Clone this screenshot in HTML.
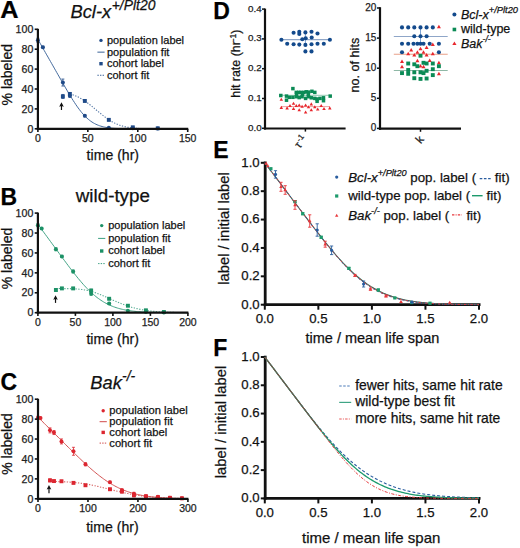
<!DOCTYPE html>
<html><head><meta charset="utf-8"><style>
html,body{margin:0;padding:0;background:#fff;}
body{width:520px;height:548px;overflow:hidden;}
svg{display:block;font-family:"Liberation Sans", sans-serif;}
text{stroke:#1a1a1a;stroke-width:0.25px;paint-order:stroke;}
</style></head><body>
<svg width="520" height="548" viewBox="0 0 520 548">
<rect width="520" height="548" fill="#fff"/>
<text x="0.00" y="0.00" font-size="23" text-anchor="start" font-weight="bold" font-style="normal" fill="#000" transform="translate(0.3,18.4) scale(1.1,1)">A</text>
<text x="70.5" y="18.3" font-size="18.3" font-style="italic" fill="#111">Bcl-x<tspan font-size="13.9" dy="-8" dx="0.6">+/Plt20</tspan></text>
<polyline points="37.90,39.37 39.16,41.58 40.42,43.79 41.68,46.00 42.94,48.21 44.19,50.43 45.45,52.64 46.71,54.85 47.97,57.06 49.23,59.27 50.49,61.48 51.75,63.69 53.01,65.90 54.27,68.11 55.52,70.33 56.78,72.54 58.04,74.75 59.30,76.95 60.56,79.16 61.82,81.36 63.08,83.55 64.34,85.74 65.60,87.92 66.85,90.07 68.11,92.21 69.37,94.33 70.63,96.41 71.89,98.46 73.15,100.47 74.41,102.42 75.67,104.33 76.92,106.16 78.18,107.94 79.44,109.64 80.70,111.26 81.96,112.80 83.22,114.26 84.48,115.63 85.74,116.91 87.00,118.11 88.25,119.22 89.51,120.25 90.77,121.19 92.03,122.05 93.29,122.84 94.55,123.55 95.81,124.19 97.07,124.77 98.33,125.28 99.58,125.74 100.84,126.15 102.10,126.51 103.36,126.83 104.62,127.11 105.88,127.35 107.14,127.56 108.40,127.75 109.66,127.91 110.91,128.04 112.17,128.16 113.43,128.26 114.69,128.35 115.95,128.42 117.21,128.48 118.47,128.54 119.73,128.58 120.99,128.62 122.24,128.65 123.50,128.68 124.76,128.70 126.02,128.72 127.28,128.73 128.54,128.74 129.80,128.75 131.06,128.76 132.31,128.77 133.57,128.77 134.83,128.78 136.09,128.78 137.35,128.79 138.61,128.79 139.87,128.79 141.13,128.79 142.39,128.79 143.64,128.80 144.90,128.80 146.16,128.80 147.42,128.80 148.68,128.80 149.94,128.80 151.20,128.80 152.46,128.80 153.72,128.80 154.97,128.80 156.23,128.80 157.49,128.80 158.75,128.80 160.01,128.80 161.27,128.80 162.53,128.80 163.79,128.80 165.05,128.80 166.30,128.80 167.56,128.80 168.82,128.80 170.08,128.80 171.34,128.80 172.60,128.80 173.86,128.80 175.12,128.80 176.38,128.80 177.63,128.80 178.89,128.80 180.15,128.80 181.41,128.80 182.67,128.80 183.93,128.80 185.19,128.80 186.45,128.80 187.71,128.80" fill="none" stroke="#3a6298" stroke-width="0.95" stroke-linejoin="round" />
<polyline points="69.86,93.96 70.85,94.22 71.84,94.50 72.83,94.82 73.82,95.17 74.81,95.54 75.80,95.95 76.79,96.39 77.78,96.85 78.77,97.35 79.76,97.87 80.75,98.43 81.74,99.01 82.73,99.62 83.72,100.26 84.71,100.92 85.70,101.60 86.69,102.31 87.68,103.04 88.67,103.78 89.66,104.55 90.65,105.33 91.65,106.12 92.64,106.93 93.63,107.74 94.62,108.57 95.61,109.39 96.60,110.22 97.59,111.06 98.58,111.88 99.57,112.71 100.56,113.52 101.55,114.33 102.54,115.12 103.53,115.90 104.52,116.66 105.51,117.40 106.50,118.12 107.49,118.81 108.48,119.49 109.47,120.13 110.46,120.76 111.45,121.35 112.44,121.91 113.43,122.45 114.42,122.96 115.41,123.44 116.40,123.89 117.39,124.31 118.38,124.71 119.37,125.08 120.36,125.42 121.35,125.74 122.34,126.03 123.34,126.30 124.33,126.55 125.32,126.78 126.31,126.99 127.30,127.18 128.29,127.35 129.28,127.51 130.27,127.65 131.26,127.78 132.25,127.90 133.24,128.00 134.23,128.09 135.22,128.18 136.21,128.25 137.20,128.32 138.19,128.38 139.18,128.43 140.17,128.48 141.16,128.52 142.15,128.55 143.14,128.59 144.13,128.61 145.12,128.64 146.11,128.66 147.10,128.68 148.09,128.70 149.08,128.71 150.07,128.72 151.06,128.73 152.05,128.74 153.04,128.75 154.03,128.76 155.02,128.76 156.02,128.77 157.01,128.77 158.00,128.78 158.99,128.78 159.98,128.78 160.97,128.79 161.96,128.79 162.95,128.79 163.94,128.79 164.93,128.79 165.92,128.79 166.91,128.79 167.90,128.80 168.89,128.80 169.88,128.80 170.87,128.80 171.86,128.80 172.85,128.80 173.84,128.80 174.83,128.80 175.82,128.80 176.81,128.80 177.80,128.80 178.79,128.80 179.78,128.80 180.77,128.80 181.76,128.80 182.75,128.80 183.74,128.80 184.73,128.80 185.72,128.80 186.71,128.80 187.71,128.80" fill="none" stroke="#3a6298" stroke-width="1.1" stroke-linejoin="round" stroke-dasharray="1.3,1.5" opacity="0.85"/>
<line x1="37.90" y1="38.26" x2="37.90" y2="42.24" stroke="#1f4a88" stroke-width="0.8" />
<line x1="36.40" y1="38.26" x2="39.40" y2="38.26" stroke="#1f4a88" stroke-width="0.8" />
<line x1="36.40" y1="42.24" x2="39.40" y2="42.24" stroke="#1f4a88" stroke-width="0.8" />
<circle cx="37.90" cy="40.25" r="2.0" fill="#1f4a88"/>
<line x1="42.89" y1="46.22" x2="42.89" y2="48.21" stroke="#1f4a88" stroke-width="0.8" />
<line x1="41.39" y1="46.22" x2="44.39" y2="46.22" stroke="#1f4a88" stroke-width="0.8" />
<line x1="41.39" y1="48.21" x2="44.39" y2="48.21" stroke="#1f4a88" stroke-width="0.8" />
<circle cx="42.89" cy="47.21" r="2.0" fill="#1f4a88"/>
<line x1="62.87" y1="79.05" x2="62.87" y2="86.02" stroke="#1f4a88" stroke-width="0.8" />
<line x1="61.37" y1="79.05" x2="64.37" y2="79.05" stroke="#1f4a88" stroke-width="0.8" />
<line x1="61.37" y1="86.02" x2="64.37" y2="86.02" stroke="#1f4a88" stroke-width="0.8" />
<circle cx="62.87" cy="82.53" r="2.0" fill="#1f4a88"/>
<line x1="69.86" y1="94.97" x2="69.86" y2="96.96" stroke="#1f4a88" stroke-width="0.8" />
<line x1="68.36" y1="94.97" x2="71.36" y2="94.97" stroke="#1f4a88" stroke-width="0.8" />
<line x1="68.36" y1="96.96" x2="71.36" y2="96.96" stroke="#1f4a88" stroke-width="0.8" />
<circle cx="69.86" cy="95.97" r="2.0" fill="#1f4a88"/>
<line x1="84.84" y1="114.87" x2="84.84" y2="116.86" stroke="#1f4a88" stroke-width="0.8" />
<line x1="83.34" y1="114.87" x2="86.34" y2="114.87" stroke="#1f4a88" stroke-width="0.8" />
<line x1="83.34" y1="116.86" x2="86.34" y2="116.86" stroke="#1f4a88" stroke-width="0.8" />
<circle cx="84.84" cy="115.87" r="2.0" fill="#1f4a88"/>
<circle cx="108.81" cy="127.81" r="2.0" fill="#1f4a88"/>
<circle cx="132.78" cy="128.30" r="2.0" fill="#1f4a88"/>
<circle cx="157.74" cy="128.50" r="2.0" fill="#1f4a88"/>
<line x1="62.87" y1="94.47" x2="62.87" y2="98.45" stroke="#1f4a88" stroke-width="0.8" />
<line x1="61.37" y1="94.47" x2="64.37" y2="94.47" stroke="#1f4a88" stroke-width="0.8" />
<line x1="61.37" y1="98.45" x2="64.37" y2="98.45" stroke="#1f4a88" stroke-width="0.8" />
<rect x="60.92" y="94.51" width="3.9" height="3.9" fill="#1f4a88"/>
<line x1="69.86" y1="92.48" x2="69.86" y2="95.47" stroke="#1f4a88" stroke-width="0.8" />
<line x1="68.36" y1="92.48" x2="71.36" y2="92.48" stroke="#1f4a88" stroke-width="0.8" />
<line x1="68.36" y1="95.47" x2="71.36" y2="95.47" stroke="#1f4a88" stroke-width="0.8" />
<rect x="67.91" y="92.03" width="3.9" height="3.9" fill="#1f4a88"/>
<line x1="84.84" y1="99.95" x2="84.84" y2="101.94" stroke="#1f4a88" stroke-width="0.8" />
<line x1="83.34" y1="99.95" x2="86.34" y2="99.95" stroke="#1f4a88" stroke-width="0.8" />
<line x1="83.34" y1="101.94" x2="86.34" y2="101.94" stroke="#1f4a88" stroke-width="0.8" />
<rect x="82.89" y="98.99" width="3.9" height="3.9" fill="#1f4a88"/>
<line x1="108.81" y1="118.85" x2="108.81" y2="120.84" stroke="#1f4a88" stroke-width="0.8" />
<line x1="107.31" y1="118.85" x2="110.31" y2="118.85" stroke="#1f4a88" stroke-width="0.8" />
<line x1="107.31" y1="120.84" x2="110.31" y2="120.84" stroke="#1f4a88" stroke-width="0.8" />
<rect x="106.86" y="117.90" width="3.9" height="3.9" fill="#1f4a88"/>
<line x1="132.78" y1="126.51" x2="132.78" y2="128.10" stroke="#1f4a88" stroke-width="0.8" />
<line x1="131.28" y1="126.51" x2="134.28" y2="126.51" stroke="#1f4a88" stroke-width="0.8" />
<line x1="131.28" y1="128.10" x2="134.28" y2="128.10" stroke="#1f4a88" stroke-width="0.8" />
<rect x="130.83" y="125.36" width="3.9" height="3.9" fill="#1f4a88"/>
<rect x="155.79" y="126.35" width="3.9" height="3.9" fill="#1f4a88"/>
<line x1="61.47" y1="104.20" x2="61.47" y2="110.00" stroke="#111" stroke-width="1.2" />
<polygon points="61.47,102.20 63.77,106.80 61.47,106.00 59.17,106.80" fill="#111"/>
<line x1="37.90" y1="28.80" x2="37.90" y2="129.90" stroke="#111" stroke-width="2.2" />
<line x1="36.80" y1="128.80" x2="188.21" y2="128.80" stroke="#111" stroke-width="2.2" />
<line x1="34.70" y1="128.80" x2="37.90" y2="128.80" stroke="#111" stroke-width="1.6" />
<text x="33.30" y="132.50" font-size="10.6" text-anchor="end" font-weight="normal" font-style="normal" fill="#222" >0</text>
<line x1="34.70" y1="108.90" x2="37.90" y2="108.90" stroke="#111" stroke-width="1.6" />
<text x="33.30" y="112.60" font-size="10.6" text-anchor="end" font-weight="normal" font-style="normal" fill="#222" >20</text>
<line x1="34.70" y1="89.00" x2="37.90" y2="89.00" stroke="#111" stroke-width="1.6" />
<text x="33.30" y="92.70" font-size="10.6" text-anchor="end" font-weight="normal" font-style="normal" fill="#222" >40</text>
<line x1="34.70" y1="69.10" x2="37.90" y2="69.10" stroke="#111" stroke-width="1.6" />
<text x="33.30" y="72.80" font-size="10.6" text-anchor="end" font-weight="normal" font-style="normal" fill="#222" >60</text>
<line x1="34.70" y1="49.20" x2="37.90" y2="49.20" stroke="#111" stroke-width="1.6" />
<text x="33.30" y="52.90" font-size="10.6" text-anchor="end" font-weight="normal" font-style="normal" fill="#222" >80</text>
<line x1="34.70" y1="29.30" x2="37.90" y2="29.30" stroke="#111" stroke-width="1.6" />
<text x="33.30" y="33.00" font-size="10.6" text-anchor="end" font-weight="normal" font-style="normal" fill="#222" >100</text>
<line x1="37.90" y1="128.80" x2="37.90" y2="132.00" stroke="#111" stroke-width="1.6" />
<text x="37.90" y="142.10" font-size="10.5" text-anchor="middle" font-weight="normal" font-style="normal" fill="#222" >0</text>
<line x1="87.84" y1="128.80" x2="87.84" y2="132.00" stroke="#111" stroke-width="1.6" />
<text x="87.84" y="142.10" font-size="10.5" text-anchor="middle" font-weight="normal" font-style="normal" fill="#222" >50</text>
<line x1="137.77" y1="128.80" x2="137.77" y2="132.00" stroke="#111" stroke-width="1.6" />
<text x="137.77" y="142.10" font-size="10.5" text-anchor="middle" font-weight="normal" font-style="normal" fill="#222" >100</text>
<line x1="187.71" y1="128.80" x2="187.71" y2="132.00" stroke="#111" stroke-width="1.6" />
<text x="187.71" y="142.10" font-size="10.5" text-anchor="middle" font-weight="normal" font-style="normal" fill="#222" >150</text>
<text x="86.60" y="160.10" font-size="14.1" text-anchor="start" font-weight="normal" font-style="normal" fill="#111" >time (hr)</text>
<text x="0.00" y="0.00" font-size="14" text-anchor="middle" font-weight="normal" font-style="normal" fill="#111" transform="translate(12.2,74.7) rotate(-90)">% labeled</text>
<text x="107.00" y="44.00" font-size="11.0" text-anchor="start" font-weight="normal" font-style="normal" fill="#111" >population label</text>
<circle cx="101.00" cy="40.40" r="1.7" fill="#1f4a88"/>
<text x="107.00" y="55.55" font-size="11.0" text-anchor="start" font-weight="normal" font-style="normal" fill="#111" >population fit</text>
<line x1="97.40" y1="52.15" x2="104.60" y2="52.15" stroke="#3a6298" stroke-width="1.0" />
<text x="107.00" y="67.10" font-size="11.0" text-anchor="start" font-weight="normal" font-style="normal" fill="#111" >cohort label</text>
<rect x="99.30" y="62.00" width="3.4" height="3.4" fill="#1f4a88"/>
<text x="107.00" y="78.65" font-size="11.0" text-anchor="start" font-weight="normal" font-style="normal" fill="#111" >cohort fit</text>
<line x1="97.40" y1="75.25" x2="104.60" y2="75.25" stroke="#3a6298" stroke-width="1.0" stroke-dasharray="1.4,1.2"/>
<text x="0.00" y="0.00" font-size="23" text-anchor="start" font-weight="bold" font-style="normal" fill="#000" transform="translate(0.5,205.2) scale(1,1)">B</text>
<text x="75.8" y="202.4" font-size="18.8" fill="#111">wild-type</text>
<polyline points="37.90,224.26 39.16,225.98 40.42,227.71 41.68,229.43 42.94,231.16 44.20,232.88 45.46,234.61 46.72,236.33 47.98,238.06 49.24,239.78 50.51,241.51 51.77,243.23 53.03,244.96 54.29,246.68 55.55,248.41 56.81,250.13 58.07,251.85 59.33,253.57 60.59,255.29 61.85,257.01 63.11,258.72 64.37,260.43 65.63,262.13 66.89,263.82 68.15,265.51 69.41,267.19 70.67,268.85 71.93,270.50 73.19,272.13 74.45,273.75 75.72,275.34 76.98,276.91 78.24,278.46 79.50,279.98 80.76,281.48 82.02,282.94 83.28,284.37 84.54,285.76 85.80,287.12 87.06,288.44 88.32,289.73 89.58,290.97 90.84,292.17 92.10,293.33 93.36,294.45 94.62,295.52 95.88,296.55 97.14,297.54 98.40,298.49 99.66,299.39 100.93,300.25 102.19,301.07 103.45,301.85 104.71,302.59 105.97,303.29 107.23,303.95 108.49,304.57 109.75,305.16 111.01,305.71 112.27,306.23 113.53,306.72 114.79,307.17 116.05,307.60 117.31,308.00 118.57,308.37 119.83,308.72 121.09,309.04 122.35,309.34 123.61,309.62 124.87,309.88 126.14,310.12 127.40,310.34 128.66,310.54 129.92,310.73 131.18,310.90 132.44,311.06 133.70,311.21 134.96,311.34 136.22,311.47 137.48,311.58 138.74,311.68 140.00,311.78 141.26,311.86 142.52,311.94 143.78,312.01 145.04,312.08 146.30,312.14 147.56,312.19 148.82,312.24 150.08,312.29 151.35,312.33 152.61,312.37 153.87,312.40 155.13,312.43 156.39,312.46 157.65,312.48 158.91,312.50 160.17,312.52 161.43,312.54 162.69,312.56 163.95,312.57 165.21,312.59 166.47,312.60 167.73,312.61 168.99,312.62 170.25,312.63 171.51,312.64 172.77,312.64 174.03,312.65 175.29,312.65 176.56,312.66 177.82,312.66 179.08,312.67 180.34,312.67 181.60,312.67 182.86,312.68 184.12,312.68 185.38,312.68 186.64,312.68 187.90,312.69" fill="none" stroke="#3a9f80" stroke-width="0.95" stroke-linejoin="round" />
<polyline points="55.90,288.55 57.01,288.55 58.12,288.55 59.23,288.55 60.34,288.56 61.45,288.56 62.56,288.56 63.66,288.57 64.77,288.58 65.88,288.59 66.99,288.60 68.10,288.62 69.21,288.64 70.32,288.67 71.43,288.70 72.54,288.74 73.65,288.79 74.76,288.85 75.87,288.92 76.98,289.00 78.08,289.09 79.19,289.19 80.30,289.31 81.41,289.44 82.52,289.60 83.63,289.76 84.74,289.95 85.85,290.15 86.96,290.38 88.07,290.62 89.18,290.88 90.29,291.16 91.40,291.46 92.51,291.79 93.61,292.13 94.72,292.49 95.83,292.86 96.94,293.26 98.05,293.67 99.16,294.09 100.27,294.53 101.38,294.98 102.49,295.44 103.60,295.92 104.71,296.40 105.82,296.89 106.93,297.38 108.03,297.88 109.14,298.38 110.25,298.88 111.36,299.38 112.47,299.88 113.58,300.38 114.69,300.88 115.80,301.36 116.91,301.84 118.02,302.32 119.13,302.78 120.24,303.24 121.35,303.68 122.45,304.12 123.56,304.54 124.67,304.96 125.78,305.35 126.89,305.74 128.00,306.11 129.11,306.47 130.22,306.82 131.33,307.16 132.44,307.48 133.55,307.78 134.66,308.08 135.77,308.36 136.87,308.62 137.98,308.88 139.09,309.12 140.20,309.35 141.31,309.57 142.42,309.77 143.53,309.97 144.64,310.15 145.75,310.33 146.86,310.49 147.97,310.65 149.08,310.79 150.19,310.93 151.29,311.06 152.40,311.18 153.51,311.29 154.62,311.39 155.73,311.49 156.84,311.58 157.95,311.67 159.06,311.75 160.17,311.82 161.28,311.89 162.39,311.96 163.50,312.02 164.61,312.07 165.72,312.12 166.82,312.17 167.93,312.21 169.04,312.25 170.15,312.29 171.26,312.32 172.37,312.36 173.48,312.38 174.59,312.41 175.70,312.44 176.81,312.46 177.92,312.48 179.03,312.50 180.14,312.52 181.24,312.53 182.35,312.55 183.46,312.56 184.57,312.57 185.68,312.59 186.79,312.60 187.90,312.61" fill="none" stroke="#3a9f80" stroke-width="1.1" stroke-linejoin="round" stroke-dasharray="1.3,1.5" opacity="0.85"/>
<line x1="37.90" y1="223.76" x2="37.90" y2="226.75" stroke="#1c9166" stroke-width="0.8" />
<line x1="36.40" y1="223.76" x2="39.40" y2="223.76" stroke="#1c9166" stroke-width="0.8" />
<line x1="36.40" y1="226.75" x2="39.40" y2="226.75" stroke="#1c9166" stroke-width="0.8" />
<circle cx="37.90" cy="225.25" r="2.0" fill="#1c9166"/>
<line x1="41.65" y1="227.44" x2="41.65" y2="229.43" stroke="#1c9166" stroke-width="0.8" />
<line x1="40.15" y1="227.44" x2="43.15" y2="227.44" stroke="#1c9166" stroke-width="0.8" />
<line x1="40.15" y1="229.43" x2="43.15" y2="229.43" stroke="#1c9166" stroke-width="0.8" />
<circle cx="41.65" cy="228.44" r="2.0" fill="#1c9166"/>
<line x1="55.90" y1="247.76" x2="55.90" y2="250.75" stroke="#1c9166" stroke-width="0.8" />
<line x1="54.40" y1="247.76" x2="57.40" y2="247.76" stroke="#1c9166" stroke-width="0.8" />
<line x1="54.40" y1="250.75" x2="57.40" y2="250.75" stroke="#1c9166" stroke-width="0.8" />
<circle cx="55.90" cy="249.25" r="2.0" fill="#1c9166"/>
<line x1="61.90" y1="255.53" x2="61.90" y2="257.52" stroke="#1c9166" stroke-width="0.8" />
<line x1="60.40" y1="255.53" x2="63.40" y2="255.53" stroke="#1c9166" stroke-width="0.8" />
<line x1="60.40" y1="257.52" x2="63.40" y2="257.52" stroke="#1c9166" stroke-width="0.8" />
<circle cx="61.90" cy="256.53" r="2.0" fill="#1c9166"/>
<line x1="73.15" y1="269.97" x2="73.15" y2="272.96" stroke="#1c9166" stroke-width="0.8" />
<line x1="71.65" y1="269.97" x2="74.65" y2="269.97" stroke="#1c9166" stroke-width="0.8" />
<line x1="71.65" y1="272.96" x2="74.65" y2="272.96" stroke="#1c9166" stroke-width="0.8" />
<circle cx="73.15" cy="271.47" r="2.0" fill="#1c9166"/>
<line x1="91.15" y1="292.28" x2="91.15" y2="295.27" stroke="#1c9166" stroke-width="0.8" />
<line x1="89.65" y1="292.28" x2="92.65" y2="292.28" stroke="#1c9166" stroke-width="0.8" />
<line x1="89.65" y1="295.27" x2="92.65" y2="295.27" stroke="#1c9166" stroke-width="0.8" />
<circle cx="91.15" cy="293.78" r="2.0" fill="#1c9166"/>
<line x1="109.15" y1="302.44" x2="109.15" y2="304.43" stroke="#1c9166" stroke-width="0.8" />
<line x1="107.65" y1="302.44" x2="110.65" y2="302.44" stroke="#1c9166" stroke-width="0.8" />
<line x1="107.65" y1="304.43" x2="110.65" y2="304.43" stroke="#1c9166" stroke-width="0.8" />
<circle cx="109.15" cy="303.44" r="2.0" fill="#1c9166"/>
<line x1="127.90" y1="310.31" x2="127.90" y2="311.31" stroke="#1c9166" stroke-width="0.8" />
<line x1="126.40" y1="310.31" x2="129.40" y2="310.31" stroke="#1c9166" stroke-width="0.8" />
<line x1="126.40" y1="311.31" x2="129.40" y2="311.31" stroke="#1c9166" stroke-width="0.8" />
<circle cx="127.90" cy="310.81" r="2.0" fill="#1c9166"/>
<circle cx="145.90" cy="312.00" r="2.0" fill="#1c9166"/>
<circle cx="163.90" cy="312.40" r="2.0" fill="#1c9166"/>
<line x1="55.90" y1="288.50" x2="55.90" y2="291.49" stroke="#1c9166" stroke-width="0.8" />
<line x1="54.40" y1="288.50" x2="57.40" y2="288.50" stroke="#1c9166" stroke-width="0.8" />
<line x1="54.40" y1="291.49" x2="57.40" y2="291.49" stroke="#1c9166" stroke-width="0.8" />
<rect x="53.95" y="288.04" width="3.9" height="3.9" fill="#1c9166"/>
<line x1="61.90" y1="287.40" x2="61.90" y2="289.39" stroke="#1c9166" stroke-width="0.8" />
<line x1="60.40" y1="287.40" x2="63.40" y2="287.40" stroke="#1c9166" stroke-width="0.8" />
<line x1="60.40" y1="289.39" x2="63.40" y2="289.39" stroke="#1c9166" stroke-width="0.8" />
<rect x="59.95" y="286.45" width="3.9" height="3.9" fill="#1c9166"/>
<line x1="73.15" y1="287.40" x2="73.15" y2="289.39" stroke="#1c9166" stroke-width="0.8" />
<line x1="71.65" y1="287.40" x2="74.65" y2="287.40" stroke="#1c9166" stroke-width="0.8" />
<line x1="71.65" y1="289.39" x2="74.65" y2="289.39" stroke="#1c9166" stroke-width="0.8" />
<rect x="71.20" y="286.45" width="3.9" height="3.9" fill="#1c9166"/>
<line x1="91.15" y1="289.09" x2="91.15" y2="292.08" stroke="#1c9166" stroke-width="0.8" />
<line x1="89.65" y1="289.09" x2="92.65" y2="289.09" stroke="#1c9166" stroke-width="0.8" />
<line x1="89.65" y1="292.08" x2="92.65" y2="292.08" stroke="#1c9166" stroke-width="0.8" />
<rect x="89.20" y="288.64" width="3.9" height="3.9" fill="#1c9166"/>
<line x1="109.15" y1="297.76" x2="109.15" y2="299.75" stroke="#1c9166" stroke-width="0.8" />
<line x1="107.65" y1="297.76" x2="110.65" y2="297.76" stroke="#1c9166" stroke-width="0.8" />
<line x1="107.65" y1="299.75" x2="110.65" y2="299.75" stroke="#1c9166" stroke-width="0.8" />
<rect x="107.20" y="296.81" width="3.9" height="3.9" fill="#1c9166"/>
<line x1="127.90" y1="304.93" x2="127.90" y2="306.52" stroke="#1c9166" stroke-width="0.8" />
<line x1="126.40" y1="304.93" x2="129.40" y2="304.93" stroke="#1c9166" stroke-width="0.8" />
<line x1="126.40" y1="306.52" x2="129.40" y2="306.52" stroke="#1c9166" stroke-width="0.8" />
<rect x="125.95" y="303.78" width="3.9" height="3.9" fill="#1c9166"/>
<line x1="145.90" y1="309.51" x2="145.90" y2="311.11" stroke="#1c9166" stroke-width="0.8" />
<line x1="144.40" y1="309.51" x2="147.40" y2="309.51" stroke="#1c9166" stroke-width="0.8" />
<line x1="144.40" y1="311.11" x2="147.40" y2="311.11" stroke="#1c9166" stroke-width="0.8" />
<rect x="143.95" y="308.36" width="3.9" height="3.9" fill="#1c9166"/>
<rect x="161.95" y="310.05" width="3.9" height="3.9" fill="#1c9166"/>
<line x1="55.52" y1="297.20" x2="55.52" y2="302.90" stroke="#111" stroke-width="1.2" />
<polygon points="55.52,295.20 57.82,299.80 55.52,299.00 53.23,299.80" fill="#111"/>
<line x1="37.90" y1="212.60" x2="37.90" y2="313.80" stroke="#111" stroke-width="2.2" />
<line x1="36.80" y1="312.70" x2="188.40" y2="312.70" stroke="#111" stroke-width="2.2" />
<line x1="34.70" y1="312.70" x2="37.90" y2="312.70" stroke="#111" stroke-width="1.6" />
<text x="33.30" y="316.40" font-size="10.6" text-anchor="end" font-weight="normal" font-style="normal" fill="#222" >0</text>
<line x1="34.70" y1="292.78" x2="37.90" y2="292.78" stroke="#111" stroke-width="1.6" />
<text x="33.30" y="296.48" font-size="10.6" text-anchor="end" font-weight="normal" font-style="normal" fill="#222" >20</text>
<line x1="34.70" y1="272.86" x2="37.90" y2="272.86" stroke="#111" stroke-width="1.6" />
<text x="33.30" y="276.56" font-size="10.6" text-anchor="end" font-weight="normal" font-style="normal" fill="#222" >40</text>
<line x1="34.70" y1="252.94" x2="37.90" y2="252.94" stroke="#111" stroke-width="1.6" />
<text x="33.30" y="256.64" font-size="10.6" text-anchor="end" font-weight="normal" font-style="normal" fill="#222" >60</text>
<line x1="34.70" y1="233.02" x2="37.90" y2="233.02" stroke="#111" stroke-width="1.6" />
<text x="33.30" y="236.72" font-size="10.6" text-anchor="end" font-weight="normal" font-style="normal" fill="#222" >80</text>
<line x1="34.70" y1="213.10" x2="37.90" y2="213.10" stroke="#111" stroke-width="1.6" />
<text x="33.30" y="216.80" font-size="10.6" text-anchor="end" font-weight="normal" font-style="normal" fill="#222" >100</text>
<line x1="37.90" y1="312.70" x2="37.90" y2="315.90" stroke="#111" stroke-width="1.6" />
<text x="37.90" y="326.00" font-size="10.5" text-anchor="middle" font-weight="normal" font-style="normal" fill="#222" >0</text>
<line x1="75.40" y1="312.70" x2="75.40" y2="315.90" stroke="#111" stroke-width="1.6" />
<text x="75.40" y="326.00" font-size="10.5" text-anchor="middle" font-weight="normal" font-style="normal" fill="#222" >50</text>
<line x1="112.90" y1="312.70" x2="112.90" y2="315.90" stroke="#111" stroke-width="1.6" />
<text x="112.90" y="326.00" font-size="10.5" text-anchor="middle" font-weight="normal" font-style="normal" fill="#222" >100</text>
<line x1="150.40" y1="312.70" x2="150.40" y2="315.90" stroke="#111" stroke-width="1.6" />
<text x="150.40" y="326.00" font-size="10.5" text-anchor="middle" font-weight="normal" font-style="normal" fill="#222" >150</text>
<line x1="187.90" y1="312.70" x2="187.90" y2="315.90" stroke="#111" stroke-width="1.6" />
<text x="187.90" y="326.00" font-size="10.5" text-anchor="middle" font-weight="normal" font-style="normal" fill="#222" >200</text>
<text x="86.40" y="344.30" font-size="14.1" text-anchor="start" font-weight="normal" font-style="normal" fill="#111" >time (hr)</text>
<text x="0.00" y="0.00" font-size="14" text-anchor="middle" font-weight="normal" font-style="normal" fill="#111" transform="translate(12.2,258.5) rotate(-90)">% labeled</text>
<text x="108.20" y="229.20" font-size="11.0" text-anchor="start" font-weight="normal" font-style="normal" fill="#111" >population label</text>
<circle cx="101.70" cy="225.60" r="1.7" fill="#1c9166"/>
<text x="108.20" y="241.80" font-size="11.0" text-anchor="start" font-weight="normal" font-style="normal" fill="#111" >population fit</text>
<line x1="98.10" y1="238.40" x2="105.30" y2="238.40" stroke="#3a9f80" stroke-width="1.0" />
<text x="108.20" y="254.40" font-size="11.0" text-anchor="start" font-weight="normal" font-style="normal" fill="#111" >cohort label</text>
<rect x="100.00" y="249.30" width="3.4" height="3.4" fill="#1c9166"/>
<text x="108.20" y="267.00" font-size="11.0" text-anchor="start" font-weight="normal" font-style="normal" fill="#111" >cohort fit</text>
<line x1="98.10" y1="263.60" x2="105.30" y2="263.60" stroke="#3a9f80" stroke-width="1.0" stroke-dasharray="1.4,1.2"/>
<text x="0.00" y="0.00" font-size="23" text-anchor="start" font-weight="bold" font-style="normal" fill="#000" transform="translate(0.5,389.5) scale(1,1)">C</text>
<text x="90.3" y="388.7" font-size="18.3" font-style="italic" fill="#111">Bak<tspan font-size="13.9" dy="-8" dx="0.3">-/-</tspan></text>
<polyline points="38.00,417.17 39.26,418.42 40.52,419.67 41.78,420.92 43.04,422.17 44.30,423.42 45.56,424.68 46.82,425.93 48.08,427.18 49.34,428.43 50.60,429.68 51.86,430.93 53.12,432.18 54.38,433.44 55.64,434.69 56.90,435.94 58.16,437.19 59.42,438.44 60.68,439.69 61.94,440.94 63.19,442.19 64.45,443.44 65.71,444.69 66.97,445.94 68.23,447.18 69.49,448.43 70.75,449.67 72.01,450.91 73.27,452.15 74.53,453.38 75.79,454.61 77.05,455.84 78.31,457.06 79.57,458.27 80.83,459.48 82.09,460.67 83.35,461.86 84.61,463.04 85.87,464.21 87.13,465.37 88.39,466.51 89.65,467.64 90.91,468.75 92.17,469.85 93.43,470.93 94.69,471.99 95.95,473.04 97.21,474.06 98.47,475.06 99.73,476.05 100.99,477.01 102.25,477.95 103.51,478.86 104.77,479.75 106.03,480.62 107.29,481.46 108.55,482.28 109.81,483.07 111.07,483.84 112.33,484.58 113.58,485.29 114.84,485.98 116.10,486.65 117.36,487.29 118.62,487.90 119.88,488.50 121.14,489.06 122.40,489.61 123.66,490.13 124.92,490.62 126.18,491.10 127.44,491.55 128.70,491.98 129.96,492.39 131.22,492.78 132.48,493.15 133.74,493.50 135.00,493.84 136.26,494.15 137.52,494.45 138.78,494.73 140.04,495.00 141.30,495.25 142.56,495.49 143.82,495.71 145.08,495.92 146.34,496.12 147.60,496.31 148.86,496.48 150.12,496.65 151.38,496.80 152.64,496.94 153.90,497.08 155.16,497.20 156.42,497.32 157.68,497.43 158.94,497.53 160.20,497.63 161.46,497.72 162.72,497.80 163.97,497.87 165.23,497.95 166.49,498.01 167.75,498.07 169.01,498.13 170.27,498.18 171.53,498.23 172.79,498.28 174.05,498.32 175.31,498.36 176.57,498.40 177.83,498.43 179.09,498.46 180.35,498.49 181.61,498.51 182.87,498.54 184.13,498.56 185.39,498.58 186.65,498.60 187.91,498.62" fill="none" stroke="#d04a4a" stroke-width="0.95" stroke-linejoin="round" />
<polyline points="49.99,481.48 51.15,481.49 52.31,481.50 53.47,481.51 54.63,481.53 55.79,481.55 56.95,481.57 58.11,481.59 59.26,481.62 60.42,481.65 61.58,481.69 62.74,481.73 63.90,481.78 65.06,481.83 66.22,481.89 67.38,481.95 68.54,482.02 69.70,482.10 70.85,482.18 72.01,482.27 73.17,482.37 74.33,482.48 75.49,482.59 76.65,482.72 77.81,482.85 78.97,482.99 80.13,483.14 81.28,483.29 82.44,483.46 83.60,483.63 84.76,483.82 85.92,484.01 87.08,484.21 88.24,484.42 89.40,484.64 90.56,484.86 91.72,485.09 92.87,485.33 94.03,485.58 95.19,485.83 96.35,486.09 97.51,486.36 98.67,486.63 99.83,486.90 100.99,487.18 102.15,487.46 103.31,487.75 104.46,488.03 105.62,488.32 106.78,488.61 107.94,488.91 109.10,489.20 110.26,489.49 111.42,489.78 112.58,490.07 113.74,490.36 114.90,490.64 116.05,490.93 117.21,491.21 118.37,491.48 119.53,491.76 120.69,492.02 121.85,492.29 123.01,492.55 124.17,492.80 125.33,493.05 126.48,493.29 127.64,493.53 128.80,493.76 129.96,493.98 131.12,494.20 132.28,494.41 133.44,494.62 134.60,494.82 135.76,495.01 136.92,495.19 138.07,495.37 139.23,495.55 140.39,495.71 141.55,495.87 142.71,496.03 143.87,496.17 145.03,496.31 146.19,496.45 147.35,496.58 148.51,496.70 149.66,496.82 150.82,496.93 151.98,497.04 153.14,497.14 154.30,497.24 155.46,497.34 156.62,497.42 157.78,497.51 158.94,497.59 160.09,497.66 161.25,497.73 162.41,497.80 163.57,497.86 164.73,497.92 165.89,497.98 167.05,498.03 168.21,498.08 169.37,498.13 170.53,498.17 171.68,498.22 172.84,498.26 174.00,498.29 175.16,498.33 176.32,498.36 177.48,498.39 178.64,498.42 179.80,498.45 180.96,498.47 182.12,498.49 183.27,498.52 184.43,498.54 185.59,498.56 186.75,498.57 187.91,498.59" fill="none" stroke="#d04a4a" stroke-width="1.1" stroke-linejoin="round" stroke-dasharray="1.3,1.5" opacity="0.85"/>
<line x1="38.00" y1="416.23" x2="38.00" y2="419.22" stroke="#dc2630" stroke-width="0.8" />
<line x1="36.50" y1="416.23" x2="39.50" y2="416.23" stroke="#dc2630" stroke-width="0.8" />
<line x1="36.50" y1="419.22" x2="39.50" y2="419.22" stroke="#dc2630" stroke-width="0.8" />
<circle cx="38.00" cy="417.73" r="2.0" fill="#dc2630"/>
<line x1="40.50" y1="417.13" x2="40.50" y2="419.12" stroke="#dc2630" stroke-width="0.8" />
<line x1="39.00" y1="417.13" x2="42.00" y2="417.13" stroke="#dc2630" stroke-width="0.8" />
<line x1="39.00" y1="419.12" x2="42.00" y2="419.12" stroke="#dc2630" stroke-width="0.8" />
<circle cx="40.50" cy="418.12" r="2.0" fill="#dc2630"/>
<line x1="49.99" y1="427.88" x2="49.99" y2="432.86" stroke="#dc2630" stroke-width="0.8" />
<line x1="48.49" y1="427.88" x2="51.49" y2="427.88" stroke="#dc2630" stroke-width="0.8" />
<line x1="48.49" y1="432.86" x2="51.49" y2="432.86" stroke="#dc2630" stroke-width="0.8" />
<circle cx="49.99" cy="430.37" r="2.0" fill="#dc2630"/>
<line x1="53.99" y1="430.57" x2="53.99" y2="434.56" stroke="#dc2630" stroke-width="0.8" />
<line x1="52.49" y1="430.57" x2="55.49" y2="430.57" stroke="#dc2630" stroke-width="0.8" />
<line x1="52.49" y1="434.56" x2="55.49" y2="434.56" stroke="#dc2630" stroke-width="0.8" />
<circle cx="53.99" cy="432.57" r="2.0" fill="#dc2630"/>
<line x1="61.49" y1="438.94" x2="61.49" y2="443.92" stroke="#dc2630" stroke-width="0.8" />
<line x1="59.99" y1="438.94" x2="62.99" y2="438.94" stroke="#dc2630" stroke-width="0.8" />
<line x1="59.99" y1="443.92" x2="62.99" y2="443.92" stroke="#dc2630" stroke-width="0.8" />
<circle cx="61.49" cy="441.43" r="2.0" fill="#dc2630"/>
<line x1="73.48" y1="447.31" x2="73.48" y2="455.27" stroke="#dc2630" stroke-width="0.8" />
<line x1="71.98" y1="447.31" x2="74.98" y2="447.31" stroke="#dc2630" stroke-width="0.8" />
<line x1="71.98" y1="455.27" x2="74.98" y2="455.27" stroke="#dc2630" stroke-width="0.8" />
<circle cx="73.48" cy="451.29" r="2.0" fill="#dc2630"/>
<line x1="85.47" y1="462.84" x2="85.47" y2="465.83" stroke="#dc2630" stroke-width="0.8" />
<line x1="83.97" y1="462.84" x2="86.97" y2="462.84" stroke="#dc2630" stroke-width="0.8" />
<line x1="83.97" y1="465.83" x2="86.97" y2="465.83" stroke="#dc2630" stroke-width="0.8" />
<circle cx="85.47" cy="464.34" r="2.0" fill="#dc2630"/>
<line x1="109.96" y1="481.17" x2="109.96" y2="483.16" stroke="#dc2630" stroke-width="0.8" />
<line x1="108.46" y1="481.17" x2="111.46" y2="481.17" stroke="#dc2630" stroke-width="0.8" />
<line x1="108.46" y1="483.16" x2="111.46" y2="483.16" stroke="#dc2630" stroke-width="0.8" />
<circle cx="109.96" cy="482.17" r="2.0" fill="#dc2630"/>
<line x1="121.95" y1="488.84" x2="121.95" y2="491.83" stroke="#dc2630" stroke-width="0.8" />
<line x1="120.45" y1="488.84" x2="123.45" y2="488.84" stroke="#dc2630" stroke-width="0.8" />
<line x1="120.45" y1="491.83" x2="123.45" y2="491.83" stroke="#dc2630" stroke-width="0.8" />
<circle cx="121.95" cy="490.33" r="2.0" fill="#dc2630"/>
<line x1="133.94" y1="492.33" x2="133.94" y2="495.31" stroke="#dc2630" stroke-width="0.8" />
<line x1="132.44" y1="492.33" x2="135.44" y2="492.33" stroke="#dc2630" stroke-width="0.8" />
<line x1="132.44" y1="495.31" x2="135.44" y2="495.31" stroke="#dc2630" stroke-width="0.8" />
<circle cx="133.94" cy="493.82" r="2.0" fill="#dc2630"/>
<line x1="145.94" y1="495.21" x2="145.94" y2="497.21" stroke="#dc2630" stroke-width="0.8" />
<line x1="144.44" y1="495.21" x2="147.44" y2="495.21" stroke="#dc2630" stroke-width="0.8" />
<line x1="144.44" y1="497.21" x2="147.44" y2="497.21" stroke="#dc2630" stroke-width="0.8" />
<circle cx="145.94" cy="496.21" r="2.0" fill="#dc2630"/>
<line x1="157.93" y1="495.81" x2="157.93" y2="497.80" stroke="#dc2630" stroke-width="0.8" />
<line x1="156.43" y1="495.81" x2="159.43" y2="495.81" stroke="#dc2630" stroke-width="0.8" />
<line x1="156.43" y1="497.80" x2="159.43" y2="497.80" stroke="#dc2630" stroke-width="0.8" />
<circle cx="157.93" cy="496.81" r="2.0" fill="#dc2630"/>
<line x1="169.92" y1="497.31" x2="169.92" y2="498.30" stroke="#dc2630" stroke-width="0.8" />
<line x1="168.42" y1="497.31" x2="171.42" y2="497.31" stroke="#dc2630" stroke-width="0.8" />
<line x1="168.42" y1="498.30" x2="171.42" y2="498.30" stroke="#dc2630" stroke-width="0.8" />
<circle cx="169.92" cy="497.80" r="2.0" fill="#dc2630"/>
<circle cx="181.91" cy="498.30" r="2.0" fill="#dc2630"/>
<line x1="49.99" y1="478.88" x2="49.99" y2="481.87" stroke="#dc2630" stroke-width="0.8" />
<line x1="48.49" y1="478.88" x2="51.49" y2="478.88" stroke="#dc2630" stroke-width="0.8" />
<line x1="48.49" y1="481.87" x2="51.49" y2="481.87" stroke="#dc2630" stroke-width="0.8" />
<rect x="48.04" y="478.42" width="3.9" height="3.9" fill="#dc2630"/>
<line x1="53.99" y1="480.08" x2="53.99" y2="482.07" stroke="#dc2630" stroke-width="0.8" />
<line x1="52.49" y1="480.08" x2="55.49" y2="480.08" stroke="#dc2630" stroke-width="0.8" />
<line x1="52.49" y1="482.07" x2="55.49" y2="482.07" stroke="#dc2630" stroke-width="0.8" />
<rect x="52.04" y="479.12" width="3.9" height="3.9" fill="#dc2630"/>
<line x1="61.49" y1="480.27" x2="61.49" y2="482.27" stroke="#dc2630" stroke-width="0.8" />
<line x1="59.99" y1="480.27" x2="62.99" y2="480.27" stroke="#dc2630" stroke-width="0.8" />
<line x1="59.99" y1="482.27" x2="62.99" y2="482.27" stroke="#dc2630" stroke-width="0.8" />
<rect x="59.54" y="479.32" width="3.9" height="3.9" fill="#dc2630"/>
<line x1="73.48" y1="481.87" x2="73.48" y2="483.86" stroke="#dc2630" stroke-width="0.8" />
<line x1="71.98" y1="481.87" x2="74.98" y2="481.87" stroke="#dc2630" stroke-width="0.8" />
<line x1="71.98" y1="483.86" x2="74.98" y2="483.86" stroke="#dc2630" stroke-width="0.8" />
<rect x="71.53" y="480.91" width="3.9" height="3.9" fill="#dc2630"/>
<line x1="85.47" y1="484.26" x2="85.47" y2="486.25" stroke="#dc2630" stroke-width="0.8" />
<line x1="83.97" y1="484.26" x2="86.97" y2="484.26" stroke="#dc2630" stroke-width="0.8" />
<line x1="83.97" y1="486.25" x2="86.97" y2="486.25" stroke="#dc2630" stroke-width="0.8" />
<rect x="83.52" y="483.30" width="3.9" height="3.9" fill="#dc2630"/>
<line x1="109.96" y1="488.24" x2="109.96" y2="490.23" stroke="#dc2630" stroke-width="0.8" />
<line x1="108.46" y1="488.24" x2="111.46" y2="488.24" stroke="#dc2630" stroke-width="0.8" />
<line x1="108.46" y1="490.23" x2="111.46" y2="490.23" stroke="#dc2630" stroke-width="0.8" />
<rect x="108.01" y="487.29" width="3.9" height="3.9" fill="#dc2630"/>
<line x1="121.95" y1="490.04" x2="121.95" y2="493.02" stroke="#dc2630" stroke-width="0.8" />
<line x1="120.45" y1="490.04" x2="123.45" y2="490.04" stroke="#dc2630" stroke-width="0.8" />
<line x1="120.45" y1="493.02" x2="123.45" y2="493.02" stroke="#dc2630" stroke-width="0.8" />
<rect x="120.00" y="489.58" width="3.9" height="3.9" fill="#dc2630"/>
<line x1="133.94" y1="493.82" x2="133.94" y2="496.81" stroke="#dc2630" stroke-width="0.8" />
<line x1="132.44" y1="493.82" x2="135.44" y2="493.82" stroke="#dc2630" stroke-width="0.8" />
<line x1="132.44" y1="496.81" x2="135.44" y2="496.81" stroke="#dc2630" stroke-width="0.8" />
<rect x="131.99" y="493.36" width="3.9" height="3.9" fill="#dc2630"/>
<line x1="145.94" y1="495.31" x2="145.94" y2="497.31" stroke="#dc2630" stroke-width="0.8" />
<line x1="144.44" y1="495.31" x2="147.44" y2="495.31" stroke="#dc2630" stroke-width="0.8" />
<line x1="144.44" y1="497.31" x2="147.44" y2="497.31" stroke="#dc2630" stroke-width="0.8" />
<rect x="143.99" y="494.36" width="3.9" height="3.9" fill="#dc2630"/>
<line x1="157.93" y1="496.31" x2="157.93" y2="498.30" stroke="#dc2630" stroke-width="0.8" />
<line x1="156.43" y1="496.31" x2="159.43" y2="496.31" stroke="#dc2630" stroke-width="0.8" />
<line x1="156.43" y1="498.30" x2="159.43" y2="498.30" stroke="#dc2630" stroke-width="0.8" />
<rect x="155.98" y="495.36" width="3.9" height="3.9" fill="#dc2630"/>
<line x1="169.92" y1="497.31" x2="169.92" y2="498.30" stroke="#dc2630" stroke-width="0.8" />
<line x1="168.42" y1="497.31" x2="171.42" y2="497.31" stroke="#dc2630" stroke-width="0.8" />
<line x1="168.42" y1="498.30" x2="171.42" y2="498.30" stroke="#dc2630" stroke-width="0.8" />
<rect x="167.97" y="495.85" width="3.9" height="3.9" fill="#dc2630"/>
<rect x="179.96" y="496.35" width="3.9" height="3.9" fill="#dc2630"/>
<line x1="48.99" y1="486.90" x2="48.99" y2="493.20" stroke="#111" stroke-width="1.2" />
<polygon points="48.99,484.90 51.29,489.50 48.99,488.70 46.69,489.50" fill="#111"/>
<line x1="38.00" y1="398.70" x2="38.00" y2="499.90" stroke="#111" stroke-width="2.2" />
<line x1="36.90" y1="498.80" x2="188.41" y2="498.80" stroke="#111" stroke-width="2.2" />
<line x1="34.80" y1="498.80" x2="38.00" y2="498.80" stroke="#111" stroke-width="1.6" />
<text x="33.40" y="502.50" font-size="10.6" text-anchor="end" font-weight="normal" font-style="normal" fill="#222" >0</text>
<line x1="34.80" y1="478.88" x2="38.00" y2="478.88" stroke="#111" stroke-width="1.6" />
<text x="33.40" y="482.58" font-size="10.6" text-anchor="end" font-weight="normal" font-style="normal" fill="#222" >20</text>
<line x1="34.80" y1="458.96" x2="38.00" y2="458.96" stroke="#111" stroke-width="1.6" />
<text x="33.40" y="462.66" font-size="10.6" text-anchor="end" font-weight="normal" font-style="normal" fill="#222" >40</text>
<line x1="34.80" y1="439.04" x2="38.00" y2="439.04" stroke="#111" stroke-width="1.6" />
<text x="33.40" y="442.74" font-size="10.6" text-anchor="end" font-weight="normal" font-style="normal" fill="#222" >60</text>
<line x1="34.80" y1="419.12" x2="38.00" y2="419.12" stroke="#111" stroke-width="1.6" />
<text x="33.40" y="422.82" font-size="10.6" text-anchor="end" font-weight="normal" font-style="normal" fill="#222" >80</text>
<line x1="34.80" y1="399.20" x2="38.00" y2="399.20" stroke="#111" stroke-width="1.6" />
<text x="33.40" y="402.90" font-size="10.6" text-anchor="end" font-weight="normal" font-style="normal" fill="#222" >100</text>
<line x1="38.00" y1="498.80" x2="38.00" y2="502.00" stroke="#111" stroke-width="1.6" />
<text x="38.00" y="512.10" font-size="10.5" text-anchor="middle" font-weight="normal" font-style="normal" fill="#222" >0</text>
<line x1="87.97" y1="498.80" x2="87.97" y2="502.00" stroke="#111" stroke-width="1.6" />
<text x="87.97" y="512.10" font-size="10.5" text-anchor="middle" font-weight="normal" font-style="normal" fill="#222" >100</text>
<line x1="137.94" y1="498.80" x2="137.94" y2="502.00" stroke="#111" stroke-width="1.6" />
<text x="137.94" y="512.10" font-size="10.5" text-anchor="middle" font-weight="normal" font-style="normal" fill="#222" >200</text>
<line x1="187.91" y1="498.80" x2="187.91" y2="502.00" stroke="#111" stroke-width="1.6" />
<text x="187.91" y="512.10" font-size="10.5" text-anchor="middle" font-weight="normal" font-style="normal" fill="#222" >300</text>
<text x="86.20" y="532.20" font-size="14.1" text-anchor="start" font-weight="normal" font-style="normal" fill="#111" >time (hr)</text>
<text x="0.00" y="0.00" font-size="14" text-anchor="middle" font-weight="normal" font-style="normal" fill="#111" transform="translate(12.2,444) rotate(-90)">% labeled</text>
<text x="109.30" y="414.40" font-size="11.2" text-anchor="start" font-weight="normal" font-style="normal" fill="#111" >population label</text>
<circle cx="103.20" cy="410.80" r="1.7" fill="#dc2630"/>
<text x="109.30" y="425.10" font-size="11.2" text-anchor="start" font-weight="normal" font-style="normal" fill="#111" >population fit</text>
<line x1="99.60" y1="421.70" x2="106.80" y2="421.70" stroke="#d04a4a" stroke-width="1.0" />
<text x="109.30" y="435.80" font-size="11.2" text-anchor="start" font-weight="normal" font-style="normal" fill="#111" >cohort label</text>
<rect x="101.50" y="430.70" width="3.4" height="3.4" fill="#dc2630"/>
<text x="109.30" y="446.50" font-size="11.2" text-anchor="start" font-weight="normal" font-style="normal" fill="#111" >cohort fit</text>
<line x1="99.60" y1="443.10" x2="106.80" y2="443.10" stroke="#d04a4a" stroke-width="1.0" stroke-dasharray="1.4,1.2"/>
<text x="213.20" y="18.60" font-size="23" text-anchor="start" font-weight="bold" font-style="normal" fill="#000" >D</text>
<line x1="281.00" y1="39.60" x2="330.00" y2="39.60" stroke="#8fa6c8" stroke-width="1.1" />
<line x1="305.40" y1="33.00" x2="305.40" y2="45.00" stroke="#5d8cc8" stroke-width="0.8" />
<circle cx="293.60" cy="32.80" r="2.05" fill="#134a8c"/>
<circle cx="299.30" cy="31.80" r="2.05" fill="#134a8c"/>
<circle cx="299.30" cy="33.90" r="2.05" fill="#134a8c"/>
<circle cx="305.40" cy="32.40" r="2.05" fill="#134a8c"/>
<circle cx="311.50" cy="31.80" r="2.05" fill="#134a8c"/>
<circle cx="317.50" cy="33.50" r="2.05" fill="#134a8c"/>
<circle cx="281.40" cy="39.80" r="2.05" fill="#134a8c"/>
<circle cx="302.30" cy="39.20" r="2.05" fill="#134a8c"/>
<circle cx="305.70" cy="38.20" r="2.05" fill="#134a8c"/>
<circle cx="311.70" cy="37.50" r="2.05" fill="#134a8c"/>
<circle cx="329.90" cy="39.80" r="2.05" fill="#134a8c"/>
<circle cx="287.20" cy="43.80" r="2.05" fill="#134a8c"/>
<circle cx="293.60" cy="44.20" r="2.05" fill="#134a8c"/>
<circle cx="299.30" cy="44.60" r="2.05" fill="#134a8c"/>
<circle cx="305.40" cy="44.90" r="2.05" fill="#134a8c"/>
<circle cx="311.50" cy="44.20" r="2.05" fill="#134a8c"/>
<circle cx="317.50" cy="43.80" r="2.05" fill="#134a8c"/>
<circle cx="323.80" cy="43.80" r="2.05" fill="#134a8c"/>
<circle cx="305.40" cy="51.40" r="2.05" fill="#134a8c"/>
<circle cx="311.50" cy="51.40" r="2.05" fill="#134a8c"/>
<line x1="281.00" y1="95.30" x2="330.00" y2="95.30" stroke="#8fc8b0" stroke-width="1.0" />
<line x1="281.00" y1="106.60" x2="330.00" y2="106.60" stroke="#f0a0a0" stroke-width="1.0" />
<rect x="291.15" y="86.85" width="3.5" height="3.5" fill="#0b8a55"/>
<rect x="294.55" y="90.65" width="3.5" height="3.5" fill="#0b8a55"/>
<rect x="296.95" y="90.65" width="3.5" height="3.5" fill="#0b8a55"/>
<rect x="299.15" y="90.65" width="3.5" height="3.5" fill="#0b8a55"/>
<rect x="302.05" y="90.65" width="3.5" height="3.5" fill="#0b8a55"/>
<rect x="304.45" y="90.05" width="3.5" height="3.5" fill="#0b8a55"/>
<rect x="306.75" y="90.35" width="3.5" height="3.5" fill="#0b8a55"/>
<rect x="310.15" y="89.55" width="3.5" height="3.5" fill="#0b8a55"/>
<rect x="313.05" y="90.65" width="3.5" height="3.5" fill="#0b8a55"/>
<rect x="279.05" y="93.75" width="3.5" height="3.5" fill="#0b8a55"/>
<rect x="284.75" y="94.35" width="3.5" height="3.5" fill="#0b8a55"/>
<rect x="287.65" y="95.55" width="3.5" height="3.5" fill="#0b8a55"/>
<rect x="291.15" y="95.55" width="3.5" height="3.5" fill="#0b8a55"/>
<rect x="294.55" y="94.95" width="3.5" height="3.5" fill="#0b8a55"/>
<rect x="297.45" y="95.85" width="3.5" height="3.5" fill="#0b8a55"/>
<rect x="300.35" y="94.95" width="3.5" height="3.5" fill="#0b8a55"/>
<rect x="303.85" y="96.65" width="3.5" height="3.5" fill="#0b8a55"/>
<rect x="306.75" y="94.95" width="3.5" height="3.5" fill="#0b8a55"/>
<rect x="309.55" y="96.05" width="3.5" height="3.5" fill="#0b8a55"/>
<rect x="313.05" y="96.65" width="3.5" height="3.5" fill="#0b8a55"/>
<rect x="315.35" y="97.25" width="3.5" height="3.5" fill="#0b8a55"/>
<rect x="318.25" y="96.65" width="3.5" height="3.5" fill="#0b8a55"/>
<rect x="321.75" y="96.05" width="3.5" height="3.5" fill="#0b8a55"/>
<rect x="328.45" y="94.35" width="3.5" height="3.5" fill="#0b8a55"/>
<rect x="284.75" y="98.45" width="3.5" height="3.5" fill="#0b8a55"/>
<rect x="315.35" y="99.55" width="3.5" height="3.5" fill="#0b8a55"/>
<rect x="321.75" y="98.95" width="3.5" height="3.5" fill="#0b8a55"/>
<rect x="300.75" y="92.55" width="3.5" height="3.5" fill="#0b8a55"/>
<rect x="306.55" y="92.75" width="3.5" height="3.5" fill="#0b8a55"/>
<rect x="294.85" y="92.45" width="3.5" height="3.5" fill="#0b8a55"/>
<polygon points="281.30,97.77 283.05,100.82 279.55,100.82" fill="#e8262c"/>
<polygon points="281.30,105.87 283.05,108.92 279.55,108.92" fill="#e8262c"/>
<polygon points="287.10,106.37 288.85,109.42 285.35,109.42" fill="#e8262c"/>
<polygon points="290.00,104.07 291.75,107.12 288.25,107.12" fill="#e8262c"/>
<polygon points="293.50,101.77 295.25,104.82 291.75,104.82" fill="#e8262c"/>
<polygon points="293.50,106.97 295.25,110.02 291.75,110.02" fill="#e8262c"/>
<polygon points="296.30,104.07 298.05,107.12 294.55,107.12" fill="#e8262c"/>
<polygon points="299.20,103.47 300.95,106.52 297.45,106.52" fill="#e8262c"/>
<polygon points="299.20,108.17 300.95,111.22 297.45,111.22" fill="#e8262c"/>
<polygon points="302.10,104.67 303.85,107.72 300.35,107.72" fill="#e8262c"/>
<polygon points="305.60,103.47 307.35,106.52 303.85,106.52" fill="#e8262c"/>
<polygon points="305.60,110.47 307.35,113.52 303.85,113.52" fill="#e8262c"/>
<polygon points="308.50,105.27 310.25,108.32 306.75,108.32" fill="#e8262c"/>
<polygon points="311.30,102.37 313.05,105.42 309.55,105.42" fill="#e8262c"/>
<polygon points="311.30,108.17 313.05,111.22 309.55,111.22" fill="#e8262c"/>
<polygon points="314.80,105.27 316.55,108.32 313.05,108.32" fill="#e8262c"/>
<polygon points="317.70,107.57 319.45,110.62 315.95,110.62" fill="#e8262c"/>
<polygon points="321.20,104.07 322.95,107.12 319.45,107.12" fill="#e8262c"/>
<polygon points="324.00,106.97 325.75,110.02 322.25,110.02" fill="#e8262c"/>
<polygon points="329.80,106.37 331.55,109.42 328.05,109.42" fill="#e8262c"/>
<line x1="265.00" y1="8.60" x2="265.00" y2="129.60" stroke="#111" stroke-width="2.2" />
<line x1="263.90" y1="128.50" x2="345.60" y2="128.50" stroke="#111" stroke-width="2.2" />
<line x1="262.00" y1="128.30" x2="265.00" y2="128.30" stroke="#111" stroke-width="1.5" />
<text x="261.60" y="130.80" font-size="9.8" text-anchor="end" font-weight="normal" font-style="normal" fill="#222" >0.0</text>
<line x1="262.00" y1="98.50" x2="265.00" y2="98.50" stroke="#111" stroke-width="1.5" />
<text x="261.60" y="101.00" font-size="9.8" text-anchor="end" font-weight="normal" font-style="normal" fill="#222" >0.1</text>
<line x1="262.00" y1="68.70" x2="265.00" y2="68.70" stroke="#111" stroke-width="1.5" />
<text x="261.60" y="71.20" font-size="9.8" text-anchor="end" font-weight="normal" font-style="normal" fill="#222" >0.2</text>
<line x1="262.00" y1="38.90" x2="265.00" y2="38.90" stroke="#111" stroke-width="1.5" />
<text x="261.60" y="41.40" font-size="9.8" text-anchor="end" font-weight="normal" font-style="normal" fill="#222" >0.3</text>
<line x1="262.00" y1="9.10" x2="265.00" y2="9.10" stroke="#111" stroke-width="1.5" />
<text x="261.60" y="11.60" font-size="9.8" text-anchor="end" font-weight="normal" font-style="normal" fill="#222" >0.4</text>
<line x1="305.40" y1="128.50" x2="305.40" y2="131.60" stroke="#111" stroke-width="1.5" />
<text font-size="11" fill="#222" text-anchor="end" transform="translate(307.5,139.5) rotate(-50)">τ<tspan font-size="8" dy="-4" dx="0.8">-1</tspan></text>
<text font-size="12.4" fill="#111" text-anchor="middle" transform="translate(240.3,63.6) rotate(-90)">hit rate (hr<tspan font-size="8.5" dy="-4.5">-1</tspan><tspan dy="4.5">)</tspan></text>
<line x1="393.80" y1="36.50" x2="447.70" y2="36.50" stroke="#8fa6c8" stroke-width="1.1" />
<line x1="393.80" y1="54.20" x2="447.70" y2="54.20" stroke="#e8a088" stroke-width="1.1" />
<line x1="393.80" y1="70.50" x2="447.70" y2="70.50" stroke="#8fb8a6" stroke-width="1.1" />
<line x1="420.50" y1="27.40" x2="420.50" y2="44.00" stroke="#5d8cc8" stroke-width="0.8" />
<circle cx="402.00" cy="27.40" r="2.05" fill="#134a8c"/>
<circle cx="408.20" cy="27.40" r="2.05" fill="#134a8c"/>
<circle cx="414.30" cy="27.40" r="2.05" fill="#134a8c"/>
<circle cx="420.50" cy="27.40" r="2.05" fill="#134a8c"/>
<circle cx="426.60" cy="27.40" r="2.05" fill="#134a8c"/>
<circle cx="432.80" cy="27.40" r="2.05" fill="#134a8c"/>
<circle cx="414.30" cy="36.20" r="2.05" fill="#134a8c"/>
<circle cx="420.50" cy="36.20" r="2.05" fill="#134a8c"/>
<circle cx="426.60" cy="36.20" r="2.05" fill="#134a8c"/>
<circle cx="402.00" cy="43.80" r="2.05" fill="#134a8c"/>
<circle cx="408.20" cy="43.80" r="2.05" fill="#134a8c"/>
<circle cx="413.50" cy="43.80" r="2.05" fill="#134a8c"/>
<circle cx="417.40" cy="43.80" r="2.05" fill="#134a8c"/>
<circle cx="420.50" cy="43.80" r="2.05" fill="#134a8c"/>
<circle cx="423.50" cy="43.80" r="2.05" fill="#134a8c"/>
<circle cx="429.70" cy="43.80" r="2.05" fill="#134a8c"/>
<circle cx="438.90" cy="43.80" r="2.05" fill="#134a8c"/>
<circle cx="402.00" cy="52.30" r="2.05" fill="#134a8c"/>
<circle cx="438.90" cy="52.30" r="2.05" fill="#134a8c"/>
<polygon points="438.90,24.81 440.90,28.29 436.90,28.29" fill="#e8262c"/>
<polygon points="432.80,42.51 434.80,45.99 430.80,45.99" fill="#e8262c"/>
<polygon points="426.60,45.61 428.60,49.09 424.60,49.09" fill="#e8262c"/>
<polygon points="420.50,46.81 422.50,50.29 418.50,50.29" fill="#e8262c"/>
<polygon points="411.20,47.91 413.20,51.39 409.20,51.39" fill="#e8262c"/>
<polygon points="408.20,51.71 410.20,55.19 406.20,55.19" fill="#e8262c"/>
<polygon points="417.40,50.21 419.40,53.69 415.40,53.69" fill="#e8262c"/>
<polygon points="423.50,50.21 425.50,53.69 421.50,53.69" fill="#e8262c"/>
<polygon points="414.30,53.01 416.30,56.49 412.30,56.49" fill="#e8262c"/>
<polygon points="426.60,53.01 428.60,56.49 424.60,56.49" fill="#e8262c"/>
<polygon points="432.80,51.71 434.80,55.19 430.80,55.19" fill="#e8262c"/>
<polygon points="402.00,59.41 404.00,62.89 400.00,62.89" fill="#e8262c"/>
<polygon points="417.40,58.71 419.40,62.19 415.40,62.19" fill="#e8262c"/>
<polygon points="429.70,58.41 431.70,61.89 427.70,61.89" fill="#e8262c"/>
<polygon points="438.90,60.71 440.90,64.19 436.90,64.19" fill="#e8262c"/>
<polygon points="402.00,64.81 404.00,68.29 400.00,68.29" fill="#e8262c"/>
<polygon points="423.50,64.81 425.50,68.29 421.50,68.29" fill="#e8262c"/>
<polygon points="438.90,71.71 440.90,75.19 436.90,75.19" fill="#e8262c"/>
<polygon points="420.50,64.11 422.50,67.59 418.50,67.59" fill="#e8262c"/>
<rect x="418.55" y="53.75" width="3.9" height="3.9" fill="#0b8a55"/>
<rect x="406.25" y="61.55" width="3.9" height="3.9" fill="#0b8a55"/>
<rect x="412.35" y="62.35" width="3.9" height="3.9" fill="#0b8a55"/>
<rect x="424.65" y="61.55" width="3.9" height="3.9" fill="#0b8a55"/>
<rect x="430.85" y="61.55" width="3.9" height="3.9" fill="#0b8a55"/>
<rect x="415.45" y="64.25" width="3.9" height="3.9" fill="#0b8a55"/>
<rect x="421.55" y="60.85" width="3.9" height="3.9" fill="#0b8a55"/>
<rect x="436.95" y="64.25" width="3.9" height="3.9" fill="#0b8a55"/>
<rect x="406.25" y="68.05" width="3.9" height="3.9" fill="#0b8a55"/>
<rect x="412.35" y="70.35" width="3.9" height="3.9" fill="#0b8a55"/>
<rect x="418.55" y="70.35" width="3.9" height="3.9" fill="#0b8a55"/>
<rect x="424.65" y="68.85" width="3.9" height="3.9" fill="#0b8a55"/>
<rect x="430.85" y="67.25" width="3.9" height="3.9" fill="#0b8a55"/>
<rect x="400.05" y="71.15" width="3.9" height="3.9" fill="#0b8a55"/>
<rect x="406.25" y="71.85" width="3.9" height="3.9" fill="#0b8a55"/>
<rect x="421.55" y="71.15" width="3.9" height="3.9" fill="#0b8a55"/>
<rect x="430.85" y="73.15" width="3.9" height="3.9" fill="#0b8a55"/>
<rect x="412.35" y="76.25" width="3.9" height="3.9" fill="#0b8a55"/>
<rect x="418.55" y="76.95" width="3.9" height="3.9" fill="#0b8a55"/>
<rect x="424.65" y="76.55" width="3.9" height="3.9" fill="#0b8a55"/>
<line x1="380.00" y1="7.20" x2="380.00" y2="129.80" stroke="#111" stroke-width="2.2" />
<line x1="378.90" y1="128.70" x2="461.00" y2="128.70" stroke="#111" stroke-width="2.2" />
<line x1="377.00" y1="128.40" x2="380.00" y2="128.40" stroke="#111" stroke-width="1.5" />
<text x="376.40" y="131.40" font-size="10" text-anchor="end" font-weight="normal" font-style="normal" fill="#222" >0</text>
<line x1="377.00" y1="98.30" x2="380.00" y2="98.30" stroke="#111" stroke-width="1.5" />
<text x="376.40" y="101.30" font-size="10" text-anchor="end" font-weight="normal" font-style="normal" fill="#222" >5</text>
<line x1="377.00" y1="68.20" x2="380.00" y2="68.20" stroke="#111" stroke-width="1.5" />
<text x="376.40" y="71.20" font-size="10" text-anchor="end" font-weight="normal" font-style="normal" fill="#222" >10</text>
<line x1="377.00" y1="38.10" x2="380.00" y2="38.10" stroke="#111" stroke-width="1.5" />
<text x="376.40" y="41.10" font-size="10" text-anchor="end" font-weight="normal" font-style="normal" fill="#222" >15</text>
<line x1="377.00" y1="8.00" x2="380.00" y2="8.00" stroke="#111" stroke-width="1.5" />
<text x="376.40" y="11.00" font-size="10" text-anchor="end" font-weight="normal" font-style="normal" fill="#222" >20</text>
<line x1="420.50" y1="128.70" x2="420.50" y2="131.80" stroke="#111" stroke-width="1.5" />
<text font-size="11.5" fill="#222" text-anchor="end" transform="translate(424.5,139.8) rotate(-50)">k</text>
<text font-size="12.6" fill="#111" text-anchor="middle" transform="translate(359,65.1) rotate(-90)">no. of hits</text>
<circle cx="454.40" cy="14.60" r="2.0" fill="#134a8c"/>
<rect x="452.60" y="27.70" width="3.6" height="3.6" fill="#0b8a55"/>
<polygon points="454.40,41.41 456.50,45.06 452.30,45.06" fill="#e8262c"/>
<text x="461" y="18.8" font-size="12.5" font-style="italic" fill="#111">Bcl-x<tspan font-size="9.3" dy="-5.8">+/Plt20</tspan></text>
<text x="461" y="32.9" font-size="12.5" fill="#111">wild-type</text>
<text x="461" y="47.6" font-size="12.5" font-style="italic" fill="#111">Bak<tspan font-size="8.6" dy="-5.6">-/-</tspan></text>
<text x="213.20" y="157.50" font-size="23" text-anchor="start" font-weight="bold" font-style="normal" fill="#000" >E</text>
<line x1="265.20" y1="161.50" x2="265.20" y2="306.10" stroke="#111" stroke-width="2.8" />
<line x1="263.80" y1="304.70" x2="480.50" y2="304.70" stroke="#111" stroke-width="2.8" />
<line x1="260.80" y1="304.70" x2="265.20" y2="304.70" stroke="#111" stroke-width="2.0" />
<text x="259.70" y="308.60" font-size="13.2" text-anchor="end" font-weight="normal" font-style="normal" fill="#111" >0.0</text>
<line x1="260.80" y1="276.32" x2="265.20" y2="276.32" stroke="#111" stroke-width="2.0" />
<text x="259.70" y="280.22" font-size="13.2" text-anchor="end" font-weight="normal" font-style="normal" fill="#111" >0.2</text>
<line x1="260.80" y1="247.94" x2="265.20" y2="247.94" stroke="#111" stroke-width="2.0" />
<text x="259.70" y="251.84" font-size="13.2" text-anchor="end" font-weight="normal" font-style="normal" fill="#111" >0.4</text>
<line x1="260.80" y1="219.56" x2="265.20" y2="219.56" stroke="#111" stroke-width="2.0" />
<text x="259.70" y="223.46" font-size="13.2" text-anchor="end" font-weight="normal" font-style="normal" fill="#111" >0.6</text>
<line x1="260.80" y1="191.18" x2="265.20" y2="191.18" stroke="#111" stroke-width="2.0" />
<text x="259.70" y="195.08" font-size="13.2" text-anchor="end" font-weight="normal" font-style="normal" fill="#111" >0.8</text>
<line x1="260.80" y1="162.80" x2="265.20" y2="162.80" stroke="#111" stroke-width="2.0" />
<text x="259.70" y="166.70" font-size="13.2" text-anchor="end" font-weight="normal" font-style="normal" fill="#111" >1.0</text>
<line x1="264.80" y1="304.70" x2="264.80" y2="309.70" stroke="#111" stroke-width="2.0" />
<text x="264.80" y="323.30" font-size="13.2" text-anchor="middle" font-weight="normal" font-style="normal" fill="#111" >0.0</text>
<line x1="318.35" y1="304.70" x2="318.35" y2="309.70" stroke="#111" stroke-width="2.0" />
<text x="318.35" y="323.30" font-size="13.2" text-anchor="middle" font-weight="normal" font-style="normal" fill="#111" >0.5</text>
<line x1="371.90" y1="304.70" x2="371.90" y2="309.70" stroke="#111" stroke-width="2.0" />
<text x="371.90" y="323.30" font-size="13.2" text-anchor="middle" font-weight="normal" font-style="normal" fill="#111" >1.0</text>
<line x1="425.45" y1="304.70" x2="425.45" y2="309.70" stroke="#111" stroke-width="2.0" />
<text x="425.45" y="323.30" font-size="13.2" text-anchor="middle" font-weight="normal" font-style="normal" fill="#111" >1.5</text>
<line x1="479.00" y1="304.70" x2="479.00" y2="309.70" stroke="#111" stroke-width="2.0" />
<text x="479.00" y="323.30" font-size="13.2" text-anchor="middle" font-weight="normal" font-style="normal" fill="#111" >2.0</text>
<text x="305.50" y="342.60" font-size="14.5" text-anchor="start" font-weight="normal" font-style="normal" fill="#111" >time / mean life span</text>
<text font-size="14.8" fill="#111" text-anchor="middle" transform="translate(229.0,228.5) rotate(-90)">label / initial label</text>
<polyline points="264.80,162.80 266.34,164.84 267.88,166.88 269.42,168.93 270.96,170.97 272.51,173.01 274.05,175.05 275.59,177.09 277.13,179.13 278.67,181.18 280.21,183.22 281.75,185.26 283.29,187.30 284.83,189.34 286.37,191.38 287.92,193.43 289.46,195.47 291.00,197.51 292.54,199.55 294.08,201.59 295.62,203.63 297.16,205.67 298.70,207.71 300.24,209.75 301.78,211.79 303.33,213.82 304.87,215.85 306.41,217.88 307.95,219.91 309.49,221.93 311.03,223.95 312.57,225.97 314.11,227.97 315.65,229.97 317.19,231.97 318.74,233.95 320.28,235.92 321.82,237.88 323.36,239.83 324.90,241.76 326.44,243.67 327.98,245.57 329.52,247.45 331.06,249.31 332.60,251.15 334.15,252.96 335.69,254.75 337.23,256.51 338.77,258.25 340.31,259.95 341.85,261.63 343.39,263.27 344.93,264.88 346.47,266.46 348.01,268.01 349.56,269.52 351.10,270.99 352.64,272.42 354.18,273.82 355.72,275.18 357.26,276.50 358.80,277.78 360.34,279.03 361.88,280.23 363.42,281.40 364.97,282.52 366.51,283.61 368.05,284.66 369.59,285.67 371.13,286.65 372.67,287.58 374.21,288.48 375.75,289.34 377.29,290.17 378.83,290.96 380.38,291.72 381.92,292.45 383.46,293.14 385.00,293.80 386.54,294.43 388.08,295.03 389.62,295.60 391.16,296.14 392.70,296.66 394.24,297.15 395.79,297.61 397.33,298.05 398.87,298.47 400.41,298.86 401.95,299.23 403.49,299.58 405.03,299.92 406.57,300.23 408.11,300.52 409.65,300.80 411.20,301.06 412.74,301.31 414.28,301.54 415.82,301.76 417.36,301.96 418.90,302.15 420.44,302.33 421.98,302.50 423.52,302.65 425.06,302.80 426.61,302.94 428.15,303.06 429.69,303.18 431.23,303.29 432.77,303.40 434.31,303.49 435.85,303.58 437.39,303.67 438.93,303.75 440.47,303.82 442.02,303.89 443.56,303.95 445.10,304.01 446.64,304.06 448.18,304.11 449.72,304.16 451.26,304.20 452.80,304.24 454.34,304.28 455.88,304.31 457.43,304.34 458.97,304.37 460.51,304.40 462.05,304.42 463.59,304.44 465.13,304.47 466.67,304.48 468.21,304.50 469.75,304.52 471.29,304.53 472.84,304.55 474.38,304.56 475.92,304.57 477.46,304.58 479.00,304.59" fill="none" stroke="#2f6a55" stroke-width="1.1" stroke-linejoin="round" />
<polyline points="264.80,162.80 266.34,164.84 267.88,166.88 269.42,168.93 270.96,170.97 272.51,173.01 274.05,175.05 275.59,177.09 277.13,179.13 278.67,181.18 280.21,183.22 281.75,185.26 283.29,187.30 284.83,189.34 286.37,191.38 287.92,193.43 289.46,195.47 291.00,197.51 292.54,199.55 294.08,201.59 295.62,203.63 297.16,205.67 298.70,207.71 300.24,209.75 301.78,211.79 303.33,213.83 304.87,215.87 306.41,217.90 307.95,219.93 309.49,221.96 311.03,223.99 312.57,226.01 314.11,228.02 315.65,230.03 317.19,232.03 318.74,234.03 320.28,236.01 321.82,237.99 323.36,239.95 324.90,241.90 326.44,243.84 327.98,245.76 329.52,247.66 331.06,249.54 332.60,251.40 334.15,253.24 335.69,255.06 337.23,256.85 338.77,258.61 340.31,260.34 341.85,262.05 343.39,263.72 344.93,265.36 346.47,266.96 348.01,268.54 349.56,270.07 351.10,271.57 352.64,273.03 354.18,274.45 355.72,275.83 357.26,277.17 358.80,278.48 360.34,279.74 361.88,280.96 363.42,282.14 364.97,283.28 366.51,284.38 368.05,285.44 369.59,286.46 371.13,287.44 372.67,288.37 374.21,289.28 375.75,290.14 377.29,290.96 378.83,291.75 380.38,292.51 381.92,293.23 383.46,293.91 385.00,294.56 386.54,295.18 388.08,295.77 389.62,296.33 391.16,296.86 392.70,297.36 394.24,297.83 395.79,298.28 397.33,298.70 398.87,299.10 400.41,299.48 401.95,299.83 403.49,300.17 405.03,300.48 406.57,300.77 408.11,301.05 409.65,301.31 411.20,301.55 412.74,301.78 414.28,301.99 415.82,302.19 417.36,302.38 418.90,302.55 420.44,302.71 421.98,302.86 423.52,303.00 425.06,303.13 426.61,303.25 428.15,303.36 429.69,303.47 431.23,303.57 432.77,303.66 434.31,303.74 435.85,303.82 437.39,303.89 438.93,303.95 440.47,304.01 442.02,304.07 443.56,304.12 445.10,304.17 446.64,304.21 448.18,304.26 449.72,304.29 451.26,304.33 452.80,304.36 454.34,304.39 455.88,304.42 457.43,304.44 458.97,304.46 460.51,304.48 462.05,304.50 463.59,304.52 465.13,304.54 466.67,304.55 468.21,304.56 469.75,304.58 471.29,304.59 472.84,304.60 474.38,304.61 475.92,304.62 477.46,304.62 479.00,304.63" fill="none" stroke="#2a5d9f" stroke-width="1.0" stroke-linejoin="round" stroke-dasharray="2.5,2"/>
<polyline points="264.80,162.80 266.34,164.84 267.88,166.88 269.42,168.93 270.96,170.97 272.51,173.01 274.05,175.05 275.59,177.09 277.13,179.13 278.67,181.18 280.21,183.22 281.75,185.26 283.29,187.30 284.83,189.34 286.37,191.38 287.92,193.43 289.46,195.47 291.00,197.51 292.54,199.55 294.08,201.59 295.62,203.63 297.16,205.67 298.70,207.71 300.24,209.75 301.78,211.79 303.33,213.83 304.87,215.86 306.41,217.89 307.95,219.92 309.49,221.95 311.03,223.97 312.57,225.99 314.11,228.01 315.65,230.01 317.19,232.01 318.74,234.00 320.28,235.98 321.82,237.95 323.36,239.91 324.90,241.85 326.44,243.78 327.98,245.69 329.52,247.58 331.06,249.45 332.60,251.31 334.15,253.14 335.69,254.94 337.23,256.72 338.77,258.47 340.31,260.19 341.85,261.89 343.39,263.55 344.93,265.18 346.47,266.77 348.01,268.33 349.56,269.86 351.10,271.35 352.64,272.80 354.18,274.21 355.72,275.58 357.26,276.92 358.80,278.21 360.34,279.47 361.88,280.68 363.42,281.86 364.97,282.99 366.51,284.09 368.05,285.14 369.59,286.16 371.13,287.13 372.67,288.07 374.21,288.97 375.75,289.83 377.29,290.66 378.83,291.45 380.38,292.21 381.92,292.93 383.46,293.61 385.00,294.27 386.54,294.89 388.08,295.49 389.62,296.05 391.16,296.58 392.70,297.09 394.24,297.57 395.79,298.02 397.33,298.45 398.87,298.86 400.41,299.24 401.95,299.60 403.49,299.95 405.03,300.27 406.57,300.57 408.11,300.85 409.65,301.12 411.20,301.37 412.74,301.60 414.28,301.82 415.82,302.03 417.36,302.22 418.90,302.40 420.44,302.57 421.98,302.72 423.52,302.87 425.06,303.01 426.61,303.13 428.15,303.25 429.69,303.36 431.23,303.46 432.77,303.56 434.31,303.65 435.85,303.73 437.39,303.81 438.93,303.88 440.47,303.94 442.02,304.00 443.56,304.06 445.10,304.11 446.64,304.16 448.18,304.20 449.72,304.24 451.26,304.28 452.80,304.32 454.34,304.35 455.88,304.38 457.43,304.40 458.97,304.43 460.51,304.45 462.05,304.47 463.59,304.49 465.13,304.51 466.67,304.53 468.21,304.54 469.75,304.56 471.29,304.57 472.84,304.58 474.38,304.59 475.92,304.60 477.46,304.61 479.00,304.62" fill="none" stroke="#e8383c" stroke-width="0.9" stroke-linejoin="round" stroke-dasharray="2.5,1.5,1,1.5"/>
<polygon points="266.20,161.62 268.00,164.75 264.40,164.75" fill="#e8383c"/>
<polygon points="267.80,164.02 269.60,167.15 266.00,167.15" fill="#e8383c"/>
<rect x="269.30" y="167.10" width="3.2" height="3.2" fill="#1d9a6c"/>
<line x1="275.50" y1="170.70" x2="275.50" y2="178.10" stroke="#2a5d9f" stroke-width="0.9" />
<line x1="273.90" y1="170.70" x2="277.10" y2="170.70" stroke="#2a5d9f" stroke-width="0.9" />
<line x1="273.90" y1="178.10" x2="277.10" y2="178.10" stroke="#2a5d9f" stroke-width="0.9" />
<circle cx="275.50" cy="174.40" r="1.6" fill="#2a5d9f"/>
<line x1="281.00" y1="182.30" x2="281.00" y2="191.30" stroke="#e8383c" stroke-width="0.9" />
<line x1="279.40" y1="182.30" x2="282.60" y2="182.30" stroke="#e8383c" stroke-width="0.9" />
<line x1="279.40" y1="191.30" x2="282.60" y2="191.30" stroke="#e8383c" stroke-width="0.9" />
<polygon points="281.00,184.92 282.80,188.05 279.20,188.05" fill="#e8383c"/>
<line x1="285.20" y1="185.70" x2="285.20" y2="194.30" stroke="#e8383c" stroke-width="0.9" />
<line x1="283.60" y1="185.70" x2="286.80" y2="185.70" stroke="#e8383c" stroke-width="0.9" />
<line x1="283.60" y1="194.30" x2="286.80" y2="194.30" stroke="#e8383c" stroke-width="0.9" />
<polygon points="285.20,188.12 287.00,191.25 283.40,191.25" fill="#e8383c"/>
<line x1="295.00" y1="200.60" x2="295.00" y2="202.60" stroke="#1d9a6c" stroke-width="0.9" />
<line x1="293.40" y1="200.60" x2="296.60" y2="200.60" stroke="#1d9a6c" stroke-width="0.9" />
<line x1="293.40" y1="202.60" x2="296.60" y2="202.60" stroke="#1d9a6c" stroke-width="0.9" />
<rect x="293.40" y="200.00" width="3.2" height="3.2" fill="#1d9a6c"/>
<line x1="295.00" y1="200.70" x2="295.00" y2="209.30" stroke="#e8383c" stroke-width="0.9" />
<line x1="293.40" y1="200.70" x2="296.60" y2="200.70" stroke="#e8383c" stroke-width="0.9" />
<line x1="293.40" y1="209.30" x2="296.60" y2="209.30" stroke="#e8383c" stroke-width="0.9" />
<polygon points="295.00,203.12 296.80,206.25 293.20,206.25" fill="#e8383c"/>
<line x1="302.70" y1="212.70" x2="302.70" y2="214.70" stroke="#1d9a6c" stroke-width="0.9" />
<line x1="301.10" y1="212.70" x2="304.30" y2="212.70" stroke="#1d9a6c" stroke-width="0.9" />
<line x1="301.10" y1="214.70" x2="304.30" y2="214.70" stroke="#1d9a6c" stroke-width="0.9" />
<rect x="301.10" y="212.10" width="3.2" height="3.2" fill="#1d9a6c"/>
<line x1="309.70" y1="214.80" x2="309.70" y2="227.20" stroke="#e8383c" stroke-width="0.9" />
<line x1="308.10" y1="214.80" x2="311.30" y2="214.80" stroke="#e8383c" stroke-width="0.9" />
<line x1="308.10" y1="227.20" x2="311.30" y2="227.20" stroke="#e8383c" stroke-width="0.9" />
<polygon points="309.70,219.12 311.50,222.25 307.90,222.25" fill="#e8383c"/>
<line x1="317.20" y1="223.80" x2="317.20" y2="236.20" stroke="#2a5d9f" stroke-width="0.9" />
<line x1="315.60" y1="223.80" x2="318.80" y2="223.80" stroke="#2a5d9f" stroke-width="0.9" />
<line x1="315.60" y1="236.20" x2="318.80" y2="236.20" stroke="#2a5d9f" stroke-width="0.9" />
<circle cx="317.20" cy="230.00" r="1.6" fill="#2a5d9f"/>
<line x1="321.20" y1="236.30" x2="321.20" y2="238.30" stroke="#1d9a6c" stroke-width="0.9" />
<line x1="319.60" y1="236.30" x2="322.80" y2="236.30" stroke="#1d9a6c" stroke-width="0.9" />
<line x1="319.60" y1="238.30" x2="322.80" y2="238.30" stroke="#1d9a6c" stroke-width="0.9" />
<rect x="319.60" y="235.70" width="3.2" height="3.2" fill="#1d9a6c"/>
<line x1="325.20" y1="241.20" x2="325.20" y2="247.20" stroke="#e8383c" stroke-width="0.9" />
<line x1="323.60" y1="241.20" x2="326.80" y2="241.20" stroke="#e8383c" stroke-width="0.9" />
<line x1="323.60" y1="247.20" x2="326.80" y2="247.20" stroke="#e8383c" stroke-width="0.9" />
<polygon points="325.20,242.32 327.00,245.45 323.40,245.45" fill="#e8383c"/>
<line x1="331.60" y1="246.00" x2="331.60" y2="254.60" stroke="#2a5d9f" stroke-width="0.9" />
<line x1="330.00" y1="246.00" x2="333.20" y2="246.00" stroke="#2a5d9f" stroke-width="0.9" />
<line x1="330.00" y1="254.60" x2="333.20" y2="254.60" stroke="#2a5d9f" stroke-width="0.9" />
<circle cx="331.60" cy="250.30" r="1.6" fill="#2a5d9f"/>
<line x1="348.90" y1="267.40" x2="348.90" y2="269.40" stroke="#1d9a6c" stroke-width="0.9" />
<line x1="347.30" y1="267.40" x2="350.50" y2="267.40" stroke="#1d9a6c" stroke-width="0.9" />
<line x1="347.30" y1="269.40" x2="350.50" y2="269.40" stroke="#1d9a6c" stroke-width="0.9" />
<rect x="347.30" y="266.80" width="3.2" height="3.2" fill="#1d9a6c"/>
<line x1="355.00" y1="274.40" x2="355.00" y2="276.40" stroke="#e8383c" stroke-width="0.9" />
<line x1="353.40" y1="274.40" x2="356.60" y2="274.40" stroke="#e8383c" stroke-width="0.9" />
<line x1="353.40" y1="276.40" x2="356.60" y2="276.40" stroke="#e8383c" stroke-width="0.9" />
<polygon points="355.00,273.52 356.80,276.65 353.20,276.65" fill="#e8383c"/>
<line x1="363.60" y1="281.00" x2="363.60" y2="287.00" stroke="#2a5d9f" stroke-width="0.9" />
<line x1="362.00" y1="281.00" x2="365.20" y2="281.00" stroke="#2a5d9f" stroke-width="0.9" />
<line x1="362.00" y1="287.00" x2="365.20" y2="287.00" stroke="#2a5d9f" stroke-width="0.9" />
<circle cx="363.60" cy="284.00" r="1.6" fill="#2a5d9f"/>
<line x1="370.50" y1="288.20" x2="370.50" y2="290.20" stroke="#e8383c" stroke-width="0.9" />
<line x1="368.90" y1="288.20" x2="372.10" y2="288.20" stroke="#e8383c" stroke-width="0.9" />
<line x1="368.90" y1="290.20" x2="372.10" y2="290.20" stroke="#e8383c" stroke-width="0.9" />
<polygon points="370.50,287.32 372.30,290.45 368.70,290.45" fill="#e8383c"/>
<line x1="378.30" y1="289.00" x2="378.30" y2="291.00" stroke="#1d9a6c" stroke-width="0.9" />
<line x1="376.70" y1="289.00" x2="379.90" y2="289.00" stroke="#1d9a6c" stroke-width="0.9" />
<line x1="376.70" y1="291.00" x2="379.90" y2="291.00" stroke="#1d9a6c" stroke-width="0.9" />
<rect x="376.70" y="288.40" width="3.2" height="3.2" fill="#1d9a6c"/>
<line x1="386.00" y1="295.00" x2="386.00" y2="297.00" stroke="#e8383c" stroke-width="0.9" />
<line x1="384.40" y1="295.00" x2="387.60" y2="295.00" stroke="#e8383c" stroke-width="0.9" />
<line x1="384.40" y1="297.00" x2="387.60" y2="297.00" stroke="#e8383c" stroke-width="0.9" />
<polygon points="386.00,294.12 387.80,297.25 384.20,297.25" fill="#e8383c"/>
<rect x="393.20" y="296.30" width="3.2" height="3.2" fill="#1d9a6c"/>
<polygon points="401.00,299.82 402.80,302.95 399.20,302.95" fill="#e8383c"/>
<rect x="410.10" y="301.00" width="3.2" height="3.2" fill="#1d9a6c"/>
<circle cx="412.00" cy="302.20" r="1.6" fill="#2a5d9f"/>
<rect x="428.40" y="301.60" width="3.2" height="3.2" fill="#1d9a6c"/>
<polygon points="449.70,300.72 451.50,303.85 447.90,303.85" fill="#e8383c"/>
<circle cx="336.70" cy="177.10" r="1.6" fill="#2a5d9f"/>
<rect x="335.10" y="194.40" width="3.2" height="3.2" fill="#1d9a6c"/>
<polygon points="336.70,213.73 338.40,216.68 335.00,216.68" fill="#e8383c"/>
<text x="348.2" y="181.8" font-size="13.3" fill="#111"><tspan font-style="italic">Bcl-x</tspan><tspan font-style="italic" font-size="9.2" dy="-5.8">+/Plt20</tspan><tspan dy="5.8"> pop. label (</tspan></text>
<text x="348.2" y="199.9" font-size="13.3" fill="#111">wild-type pop. label (</text>
<text x="348.2" y="220.0" font-size="13.3" fill="#111"><tspan font-style="italic">Bak</tspan><tspan font-style="italic" font-size="9.2" dy="-5.8">-/-</tspan><tspan dy="5.8"> pop. label (</tspan></text>
<text x="494.80" y="181.80" font-size="13.3" text-anchor="start" font-weight="normal" font-style="normal" fill="#111" >fit)</text>
<text x="486.60" y="199.90" font-size="13.3" text-anchor="start" font-weight="normal" font-style="normal" fill="#111" >fit)</text>
<text x="466.40" y="220.00" font-size="13.3" text-anchor="start" font-weight="normal" font-style="normal" fill="#111" >fit)</text>
<line x1="479.70" y1="178.60" x2="490.80" y2="178.60" stroke="#2a5d9f" stroke-width="1.2" stroke-dasharray="2.6,1.6"/>
<line x1="472.00" y1="195.70" x2="482.60" y2="195.70" stroke="#1d9a6c" stroke-width="1.4" />
<line x1="452.00" y1="214.90" x2="461.80" y2="214.90" stroke="#e8383c" stroke-width="1.1" stroke-dasharray="2.4,1.2,1,1.2"/>
<text x="213.20" y="355.50" font-size="23" text-anchor="start" font-weight="bold" font-style="normal" fill="#000" >F</text>
<line x1="265.20" y1="355.70" x2="265.20" y2="499.80" stroke="#111" stroke-width="2.8" />
<line x1="263.80" y1="498.40" x2="480.50" y2="498.40" stroke="#111" stroke-width="2.8" />
<line x1="260.80" y1="498.40" x2="265.20" y2="498.40" stroke="#111" stroke-width="2.0" />
<text x="259.70" y="502.30" font-size="13.2" text-anchor="end" font-weight="normal" font-style="normal" fill="#111" >0.0</text>
<line x1="260.80" y1="470.12" x2="265.20" y2="470.12" stroke="#111" stroke-width="2.0" />
<text x="259.70" y="474.02" font-size="13.2" text-anchor="end" font-weight="normal" font-style="normal" fill="#111" >0.2</text>
<line x1="260.80" y1="441.84" x2="265.20" y2="441.84" stroke="#111" stroke-width="2.0" />
<text x="259.70" y="445.74" font-size="13.2" text-anchor="end" font-weight="normal" font-style="normal" fill="#111" >0.4</text>
<line x1="260.80" y1="413.56" x2="265.20" y2="413.56" stroke="#111" stroke-width="2.0" />
<text x="259.70" y="417.46" font-size="13.2" text-anchor="end" font-weight="normal" font-style="normal" fill="#111" >0.6</text>
<line x1="260.80" y1="385.28" x2="265.20" y2="385.28" stroke="#111" stroke-width="2.0" />
<text x="259.70" y="389.18" font-size="13.2" text-anchor="end" font-weight="normal" font-style="normal" fill="#111" >0.8</text>
<line x1="260.80" y1="357.00" x2="265.20" y2="357.00" stroke="#111" stroke-width="2.0" />
<text x="259.70" y="360.90" font-size="13.2" text-anchor="end" font-weight="normal" font-style="normal" fill="#111" >1.0</text>
<line x1="264.80" y1="498.40" x2="264.80" y2="503.40" stroke="#111" stroke-width="2.0" />
<text x="264.80" y="517.00" font-size="13.2" text-anchor="middle" font-weight="normal" font-style="normal" fill="#111" >0.0</text>
<line x1="318.35" y1="498.40" x2="318.35" y2="503.40" stroke="#111" stroke-width="2.0" />
<text x="318.35" y="517.00" font-size="13.2" text-anchor="middle" font-weight="normal" font-style="normal" fill="#111" >0.5</text>
<line x1="371.90" y1="498.40" x2="371.90" y2="503.40" stroke="#111" stroke-width="2.0" />
<text x="371.90" y="517.00" font-size="13.2" text-anchor="middle" font-weight="normal" font-style="normal" fill="#111" >1.0</text>
<line x1="425.45" y1="498.40" x2="425.45" y2="503.40" stroke="#111" stroke-width="2.0" />
<text x="425.45" y="517.00" font-size="13.2" text-anchor="middle" font-weight="normal" font-style="normal" fill="#111" >1.5</text>
<line x1="479.00" y1="498.40" x2="479.00" y2="503.40" stroke="#111" stroke-width="2.0" />
<text x="479.00" y="517.00" font-size="13.2" text-anchor="middle" font-weight="normal" font-style="normal" fill="#111" >2.0</text>
<text x="302.00" y="543.30" font-size="15.0" text-anchor="start" font-weight="normal" font-style="normal" fill="#111" >time / mean life span</text>
<text font-size="14.8" fill="#111" text-anchor="middle" transform="translate(226.3,422) rotate(-90)">label / initial label</text>
<polyline points="264.80,357.00 266.34,359.03 267.88,361.07 269.42,363.10 270.96,365.14 272.51,367.17 274.05,369.21 275.59,371.24 277.13,373.28 278.67,375.31 280.21,377.34 281.75,379.38 283.29,381.41 284.83,383.45 286.37,385.48 287.92,387.51 289.46,389.54 291.00,391.57 292.54,393.60 294.08,395.63 295.62,397.65 297.16,399.67 298.70,401.68 300.24,403.70 301.78,405.70 303.33,407.70 304.87,409.70 306.41,411.68 307.95,413.66 309.49,415.63 311.03,417.58 312.57,419.53 314.11,421.46 315.65,423.38 317.19,425.29 318.74,427.17 320.28,429.05 321.82,430.90 323.36,432.73 324.90,434.55 326.44,436.34 327.98,438.11 329.52,439.86 331.06,441.58 332.60,443.28 334.15,444.95 335.69,446.59 337.23,448.21 338.77,449.80 340.31,451.36 341.85,452.90 343.39,454.40 344.93,455.87 346.47,457.31 348.01,458.72 349.56,460.10 351.10,461.45 352.64,462.77 354.18,464.05 355.72,465.30 357.26,466.52 358.80,467.71 360.34,468.87 361.88,470.00 363.42,471.09 364.97,472.15 366.51,473.18 368.05,474.19 369.59,475.16 371.13,476.10 372.67,477.01 374.21,477.89 375.75,478.74 377.29,479.57 378.83,480.36 380.38,481.13 381.92,481.88 383.46,482.59 385.00,483.29 386.54,483.95 388.08,484.59 389.62,485.21 391.16,485.81 392.70,486.38 394.24,486.93 395.79,487.46 397.33,487.97 398.87,488.45 400.41,488.92 401.95,489.37 403.49,489.80 405.03,490.21 406.57,490.61 408.11,490.99 409.65,491.35 411.20,491.69 412.74,492.02 414.28,492.34 415.82,492.64 417.36,492.93 418.90,493.21 420.44,493.47 421.98,493.72 423.52,493.96 425.06,494.19 426.61,494.41 428.15,494.62 429.69,494.82 431.23,495.00 432.77,495.18 434.31,495.35 435.85,495.52 437.39,495.67 438.93,495.82 440.47,495.96 442.02,496.09 443.56,496.21 445.10,496.33 446.64,496.45 448.18,496.55 449.72,496.66 451.26,496.75 452.80,496.85 454.34,496.93 455.88,497.01 457.43,497.09 458.97,497.17 460.51,497.24 462.05,497.30 463.59,497.37 465.13,497.42 466.67,497.48 468.21,497.53 469.75,497.58 471.29,497.63 472.84,497.68 474.38,497.72 475.92,497.76 477.46,497.80 479.00,497.83" fill="none" stroke="#2a5d9f" stroke-width="1.1" stroke-linejoin="round" stroke-dasharray="3,2"/>
<polyline points="264.80,357.00 266.34,359.03 267.88,361.07 269.42,363.10 270.96,365.14 272.51,367.17 274.05,369.21 275.59,371.24 277.13,373.28 278.67,375.31 280.21,377.35 281.75,379.38 283.29,381.41 284.83,383.45 286.37,385.48 287.92,387.52 289.46,389.55 291.00,391.59 292.54,393.62 294.08,395.65 295.62,397.68 297.16,399.72 298.70,401.75 300.24,403.78 301.78,405.80 303.33,407.83 304.87,409.85 306.41,411.87 307.95,413.89 309.49,415.90 311.03,417.90 312.57,419.90 314.11,421.89 315.65,423.87 317.19,425.85 318.74,427.81 320.28,429.76 321.82,431.70 323.36,433.62 324.90,435.53 326.44,437.42 327.98,439.29 329.52,441.14 331.06,442.97 332.60,444.78 334.15,446.56 335.69,448.32 337.23,450.05 338.77,451.75 340.31,453.43 341.85,455.07 343.39,456.69 344.93,458.27 346.47,459.82 348.01,461.33 349.56,462.81 351.10,464.25 352.64,465.66 354.18,467.03 355.72,468.37 357.26,469.67 358.80,470.93 360.34,472.15 361.88,473.34 363.42,474.49 364.97,475.60 366.51,476.67 368.05,477.71 369.59,478.71 371.13,479.68 372.67,480.60 374.21,481.50 375.75,482.36 377.29,483.18 378.83,483.97 380.38,484.73 381.92,485.46 383.46,486.16 385.00,486.82 386.54,487.46 388.08,488.06 389.62,488.64 391.16,489.20 392.70,489.72 394.24,490.22 395.79,490.70 397.33,491.15 398.87,491.58 400.41,491.99 401.95,492.37 403.49,492.74 405.03,493.09 406.57,493.42 408.11,493.73 409.65,494.02 411.20,494.30 412.74,494.56 414.28,494.80 415.82,495.04 417.36,495.25 418.90,495.46 420.44,495.65 421.98,495.84 423.52,496.01 425.06,496.17 426.61,496.32 428.15,496.46 429.69,496.59 431.23,496.72 432.77,496.84 434.31,496.94 435.85,497.05 437.39,497.14 438.93,497.23 440.47,497.31 442.02,497.39 443.56,497.46 445.10,497.53 446.64,497.60 448.18,497.65 449.72,497.71 451.26,497.76 452.80,497.81 454.34,497.85 455.88,497.89 457.43,497.93 458.97,497.97 460.51,498.00 462.05,498.03 463.59,498.06 465.13,498.08 466.67,498.11 468.21,498.13 469.75,498.15 471.29,498.17 472.84,498.19 474.38,498.21 475.92,498.22 477.46,498.24 479.00,498.25" fill="none" stroke="#1d9a6c" stroke-width="1.3" stroke-linejoin="round" />
<polyline points="264.80,357.00 266.34,359.03 267.88,361.07 269.42,363.10 270.96,365.14 272.51,367.17 274.05,369.21 275.59,371.24 277.13,373.28 278.67,375.31 280.21,377.35 281.75,379.38 283.29,381.41 284.83,383.45 286.37,385.48 287.92,387.52 289.46,389.55 291.00,391.59 292.54,393.62 294.08,395.66 295.62,397.69 297.16,399.73 298.70,401.76 300.24,403.79 301.78,405.83 303.33,407.86 304.87,409.90 306.41,411.93 307.95,413.96 309.49,416.00 311.03,418.03 312.57,420.06 314.11,422.09 315.65,424.12 317.19,426.15 318.74,428.17 320.28,430.19 321.82,432.21 323.36,434.22 324.90,436.23 326.44,438.23 327.98,440.22 329.52,442.20 331.06,444.17 332.60,446.12 334.15,448.06 335.69,449.99 337.23,451.89 338.77,453.77 340.31,455.63 341.85,457.46 343.39,459.26 344.93,461.03 346.47,462.77 348.01,464.47 349.56,466.14 351.10,467.77 352.64,469.35 354.18,470.89 355.72,472.39 357.26,473.84 358.80,475.25 360.34,476.60 361.88,477.91 363.42,479.16 364.97,480.37 366.51,481.52 368.05,482.63 369.59,483.68 371.13,484.68 372.67,485.64 374.21,486.54 375.75,487.40 377.29,488.21 378.83,488.97 380.38,489.69 381.92,490.36 383.46,491.00 385.00,491.59 386.54,492.15 388.08,492.66 389.62,493.15 391.16,493.59 392.70,494.01 394.24,494.39 395.79,494.75 397.33,495.08 398.87,495.38 400.41,495.66 401.95,495.92 403.49,496.15 405.03,496.37 406.57,496.57 408.11,496.75 409.65,496.91 411.20,497.06 412.74,497.20 414.28,497.32 415.82,497.43 417.36,497.53 418.90,497.62 420.44,497.71 421.98,497.78 423.52,497.85 425.06,497.91 426.61,497.96 428.15,498.01 429.69,498.06 431.23,498.09 432.77,498.13 434.31,498.16 435.85,498.19 437.39,498.21 438.93,498.23 440.47,498.25 442.02,498.27 443.56,498.29 445.10,498.30 446.64,498.31 448.18,498.32 449.72,498.33 451.26,498.34 452.80,498.35 454.34,498.36 455.88,498.36 457.43,498.37 458.97,498.37 460.51,498.37 462.05,498.38 463.59,498.38 465.13,498.38 466.67,498.39 468.21,498.39 469.75,498.39 471.29,498.39 472.84,498.39 474.38,498.39 475.92,498.39 477.46,498.39 479.00,498.40" fill="none" stroke="#e8383c" stroke-width="1.0" stroke-linejoin="round" stroke-dasharray="3,1.5,1,1.5"/>
<polyline points="264.80,357.00 266.72,359.54 268.64,362.07 270.56,364.61 272.48,367.14 274.40,369.68 276.32,372.21 278.24,374.75 280.16,377.28 282.08,379.82 284.00,382.35 285.92,384.89 287.84,387.42 289.77,389.96 291.69,392.49 293.61,395.03 295.53,397.56 297.45,400.09 299.37,402.62 301.29,405.15 303.21,407.68 305.13,410.20 307.05,412.71 308.97,415.22 310.89,417.72 312.81,420.21 314.73,422.69 316.65,425.15 318.57,427.60 320.49,430.03" fill="none" stroke="#6a5a4c" stroke-width="1.1" stroke-linejoin="round" />
<line x1="339.20" y1="386.00" x2="351.20" y2="386.00" stroke="#4a7ab8" stroke-width="1.1" stroke-dasharray="2.5,1.5"/>
<line x1="339.20" y1="402.40" x2="351.20" y2="402.40" stroke="#3fa585" stroke-width="1.2" />
<line x1="339.20" y1="419.00" x2="351.20" y2="419.00" stroke="#e85a5a" stroke-width="1.0" stroke-dasharray="2.5,1.2,1,1.2"/>
<text x="355.20" y="390.20" font-size="13.9" text-anchor="start" font-weight="normal" font-style="normal" fill="#111" >fewer hits, same hit rate</text>
<text x="355.20" y="405.90" font-size="13.9" text-anchor="start" font-weight="normal" font-style="normal" fill="#111" >wild-type best fit</text>
<text x="355.20" y="423.20" font-size="13.9" text-anchor="start" font-weight="normal" font-style="normal" fill="#111" >more hits, same hit rate</text>
</svg>
</body></html>
